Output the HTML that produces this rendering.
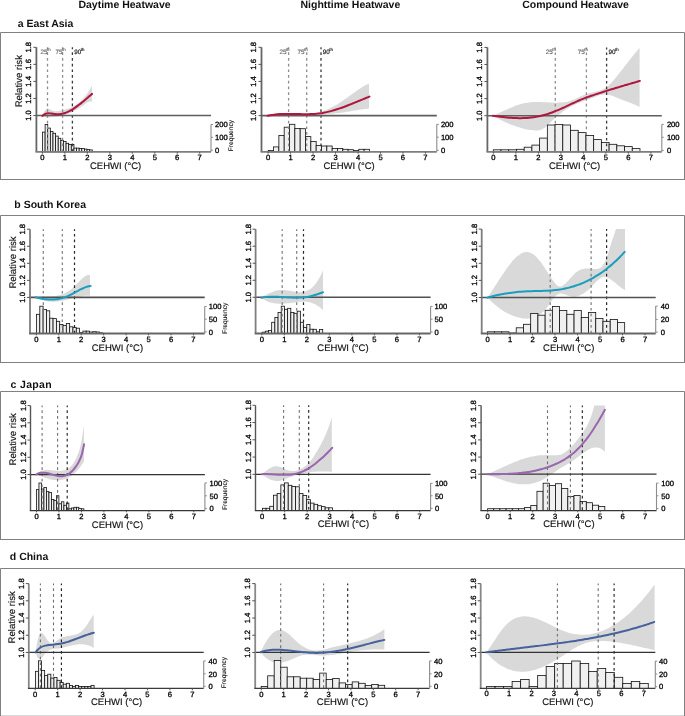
<!DOCTYPE html>
<html><head><meta charset="utf-8"><style>
html,body{margin:0;padding:0;background:#fff;overflow:hidden;width:685px;height:716px;}
svg{display:block;will-change:transform;text-rendering:geometricPrecision;font-family:"Liberation Sans", sans-serif;}
.tk{font-size:7.6px;fill:#000;stroke:#000;stroke-width:0.3px;}
.xl{font-size:9.5px;fill:#111;stroke:#111;stroke-width:0.15px;}
.rr{font-size:9.6px;fill:#111;stroke:#111;stroke-width:0.15px;}
.fq{font-size:6.6px;fill:#111;stroke:#111;stroke-width:0.12px;}
.pl{font-size:6.3px;stroke-width:0.15px;}
.sup{font-size:4.3px;}
.hd{font-size:10.5px;font-weight:bold;fill:#111;}
</style></head><body>
<svg width="685" height="716" viewBox="0 0 685 716">
<rect x="0" y="0" width="685" height="716" fill="#fff"/>
<text x="78.4" y="8.2" class="hd">Daytime Heatwave</text>
<text x="300.5" y="8.2" class="hd">Nighttime Heatwave</text>
<text x="522.2" y="8.2" class="hd">Compound Heatwave</text>
<text x="17.7" y="26.8" class="hd">a East Asia</text>
<path d="M0.5,32.5 H684.5 V179.5" fill="none" stroke="#808080" stroke-width="1"/>
<path d="M0.5,32.5 V179.5" fill="none" stroke="#808080" stroke-width="1"/>
<line x1="0" y1="179.5" x2="685" y2="179.5" stroke="#808080" stroke-width="1"/>
<clipPath id="c1"><rect x="36.4" y="47.3" width="174.6" height="104.55"/></clipPath>
<path d="M42.3,115.61 C42.64,114.93 43.68,112.66 44.37,111.56 C45.06,110.46 45.74,109.48 46.43,108.99 C47.12,108.5 47.81,108.53 48.5,108.64 C49.19,108.74 49.88,109.29 50.57,109.63 C51.26,109.96 51.94,110.39 52.63,110.64 C53.32,110.89 54.01,111.04 54.7,111.14 C55.39,111.24 56.08,111.25 56.77,111.23 C57.46,111.21 58.14,111.12 58.83,111.02 C59.52,110.91 60.21,110.76 60.9,110.6 C61.59,110.45 62.28,110.28 62.97,110.1 C63.66,109.93 64.34,109.75 65.03,109.55 C65.72,109.36 66.41,109.16 67.1,108.94 C67.79,108.71 68.48,108.48 69.17,108.22 C69.86,107.96 70.54,107.68 71.23,107.38 C71.92,107.07 72.61,106.74 73.3,106.38 C73.99,106.02 74.68,105.63 75.37,105.2 C76.06,104.77 76.74,104.31 77.43,103.81 C78.12,103.3 78.81,102.77 79.5,102.18 C80.19,101.59 80.88,100.96 81.57,100.28 C82.26,99.6 82.94,98.87 83.63,98.09 C84.32,97.3 85.01,96.47 85.7,95.57 C86.39,94.67 87.08,93.72 87.77,92.7 C88.46,91.68 89.14,90.61 89.83,89.46 C90.52,88.3 91.56,86.41 91.9,85.8 L91.9,101.49 C91.56,101.51 90.52,101.45 89.83,101.59 C89.14,101.74 88.46,102.02 87.77,102.35 C87.08,102.67 86.39,103.11 85.7,103.55 C85.01,103.99 84.32,104.5 83.63,104.99 C82.94,105.48 82.26,106 81.57,106.48 C80.88,106.96 80.19,107.43 79.5,107.87 C78.81,108.32 78.12,108.75 77.43,109.16 C76.74,109.57 76.06,109.96 75.37,110.34 C74.68,110.71 73.99,111.07 73.3,111.41 C72.61,111.75 71.92,112.08 71.23,112.38 C70.54,112.69 69.86,112.98 69.17,113.25 C68.48,113.52 67.79,113.78 67.1,114.02 C66.41,114.26 65.72,114.48 65.03,114.69 C64.34,114.89 63.66,115.08 62.97,115.26 C62.28,115.43 61.59,115.59 60.9,115.74 C60.21,115.89 59.52,116.03 58.83,116.15 C58.14,116.28 57.46,116.39 56.77,116.5 C56.08,116.61 55.39,116.7 54.7,116.8 C54.01,116.89 53.32,116.98 52.63,117.06 C51.94,117.14 51.26,117.23 50.57,117.3 C49.88,117.36 49.19,117.44 48.5,117.45 C47.81,117.47 47.12,117.47 46.43,117.39 C45.74,117.3 45.06,117.18 44.37,116.95 C43.68,116.72 42.64,116.16 42.3,116 Z" fill="#d9d9d9" clip-path="url(#c1)"/>
<rect x="42.5" y="132.1" width="2.62" height="19.75" fill="#f0f0f0" stroke="#111" stroke-width="0.8"/>
<rect x="45.12" y="124.5" width="2.62" height="27.35" fill="#f0f0f0" stroke="#111" stroke-width="0.8"/>
<rect x="47.74" y="128.1" width="2.62" height="23.75" fill="#f0f0f0" stroke="#111" stroke-width="0.8"/>
<rect x="50.36" y="131.4" width="2.62" height="20.45" fill="#f0f0f0" stroke="#111" stroke-width="0.8"/>
<rect x="52.98" y="133.3" width="2.62" height="18.55" fill="#f0f0f0" stroke="#111" stroke-width="0.8"/>
<rect x="55.6" y="136.1" width="2.62" height="15.75" fill="#f0f0f0" stroke="#111" stroke-width="0.8"/>
<rect x="58.22" y="138.3" width="2.62" height="13.55" fill="#f0f0f0" stroke="#111" stroke-width="0.8"/>
<rect x="60.84" y="140.4" width="2.62" height="11.45" fill="#f0f0f0" stroke="#111" stroke-width="0.8"/>
<rect x="63.46" y="141.4" width="2.62" height="10.45" fill="#f0f0f0" stroke="#111" stroke-width="0.8"/>
<rect x="66.08" y="143.3" width="2.62" height="8.55" fill="#f0f0f0" stroke="#111" stroke-width="0.8"/>
<rect x="68.7" y="144.4" width="2.62" height="7.45" fill="#f0f0f0" stroke="#111" stroke-width="0.8"/>
<rect x="71.32" y="144.4" width="2.62" height="7.45" fill="#f0f0f0" stroke="#111" stroke-width="0.8"/>
<rect x="73.94" y="148.1" width="2.62" height="3.75" fill="#f0f0f0" stroke="#111" stroke-width="0.8"/>
<rect x="76.56" y="148.1" width="2.62" height="3.75" fill="#f0f0f0" stroke="#111" stroke-width="0.8"/>
<rect x="79.18" y="148.4" width="2.62" height="3.45" fill="#f0f0f0" stroke="#111" stroke-width="0.8"/>
<rect x="81.8" y="148.6" width="2.62" height="3.25" fill="#f0f0f0" stroke="#111" stroke-width="0.8"/>
<rect x="84.42" y="149.1" width="2.62" height="2.75" fill="#f0f0f0" stroke="#111" stroke-width="0.8"/>
<rect x="87.04" y="149.6" width="2.62" height="2.25" fill="#f0f0f0" stroke="#111" stroke-width="0.8"/>
<rect x="89.66" y="149.9" width="2.62" height="1.95" fill="#f0f0f0" stroke="#111" stroke-width="0.8"/>
<line x1="47.5" y1="47.3" x2="47.5" y2="151.85" stroke="#8e8e8e" stroke-width="1.3" stroke-dasharray="2.7 3.0" stroke-dashoffset="0.7"/>
<line x1="62.6" y1="47.3" x2="62.6" y2="151.85" stroke="#8e8e8e" stroke-width="1.3" stroke-dasharray="2.7 3.0" stroke-dashoffset="0.7"/>
<line x1="72.4" y1="47.3" x2="72.4" y2="151.85" stroke="#3a3a3a" stroke-width="1.3" stroke-dasharray="2.7 3.0" stroke-dashoffset="0.7"/>
<line x1="36.4" y1="115.5" x2="211" y2="115.5" stroke="#5e5e5e" stroke-width="1.6"/>
<path d="M42.3,115.89 C42.65,115.62 43.68,114.67 44.38,114.27 C45.07,113.86 45.76,113.63 46.45,113.45 C47.14,113.28 47.83,113.24 48.52,113.23 C49.22,113.22 49.91,113.31 50.6,113.39 C51.29,113.48 51.98,113.63 52.67,113.74 C53.37,113.85 54.06,113.97 54.75,114.05 C55.44,114.13 56.13,114.18 56.82,114.2 C57.52,114.23 58.21,114.22 58.9,114.18 C59.59,114.15 60.28,114.08 60.97,113.98 C61.67,113.88 62.36,113.75 63.05,113.58 C63.74,113.42 64.43,113.22 65.12,112.99 C65.82,112.76 66.51,112.49 67.2,112.2 C67.89,111.9 68.58,111.58 69.27,111.22 C69.97,110.87 70.66,110.49 71.35,110.09 C72.04,109.69 72.73,109.26 73.42,108.81 C74.12,108.36 74.81,107.89 75.5,107.4 C76.19,106.92 76.88,106.41 77.57,105.89 C78.27,105.37 78.96,104.84 79.65,104.29 C80.34,103.75 81.03,103.19 81.72,102.62 C82.42,102.06 83.11,101.48 83.8,100.9 C84.49,100.33 85.18,99.74 85.88,99.15 C86.57,98.57 87.26,97.97 87.95,97.39 C88.64,96.8 89.33,96.21 90.02,95.62 C90.72,95.04 91.75,94.18 92.1,93.89" fill="none" stroke="#B0163E" stroke-width="2" stroke-linecap="round" clip-path="url(#c1)"/>
<line x1="36.4" y1="47.3" x2="36.4" y2="151.85" stroke="#666" stroke-width="1.8"/>
<line x1="35.5" y1="151.85" x2="211" y2="151.85" stroke="#7e7e7e" stroke-width="1.8"/>
<line x1="33.4" y1="115.5" x2="36.4" y2="115.5" stroke="#555" stroke-width="1"/>
<text x="31.1" y="115.5" transform="rotate(-90 31.1 115.5)" text-anchor="middle" class="tk">1.0</text>
<line x1="33.4" y1="98.45" x2="36.4" y2="98.45" stroke="#555" stroke-width="1"/>
<text x="31.1" y="98.45" transform="rotate(-90 31.1 98.45)" text-anchor="middle" class="tk">1.2</text>
<line x1="33.4" y1="81.4" x2="36.4" y2="81.4" stroke="#555" stroke-width="1"/>
<text x="31.1" y="81.4" transform="rotate(-90 31.1 81.4)" text-anchor="middle" class="tk">1.4</text>
<line x1="33.4" y1="64.35" x2="36.4" y2="64.35" stroke="#555" stroke-width="1"/>
<text x="31.1" y="64.35" transform="rotate(-90 31.1 64.35)" text-anchor="middle" class="tk">1.6</text>
<line x1="33.4" y1="47.3" x2="36.4" y2="47.3" stroke="#555" stroke-width="1"/>
<text x="31.1" y="47.3" transform="rotate(-90 31.1 47.3)" text-anchor="middle" class="tk">1.8</text>
<line x1="42.4" y1="151.85" x2="42.4" y2="153.65" stroke="#555" stroke-width="1"/>
<text x="42.4" y="160" text-anchor="middle" class="tk">0</text>
<line x1="64.87" y1="151.85" x2="64.87" y2="153.65" stroke="#555" stroke-width="1"/>
<text x="64.87" y="160" text-anchor="middle" class="tk">1</text>
<line x1="87.34" y1="151.85" x2="87.34" y2="153.65" stroke="#555" stroke-width="1"/>
<text x="87.34" y="160" text-anchor="middle" class="tk">2</text>
<line x1="109.81" y1="151.85" x2="109.81" y2="153.65" stroke="#555" stroke-width="1"/>
<text x="109.81" y="160" text-anchor="middle" class="tk">3</text>
<line x1="132.28" y1="151.85" x2="132.28" y2="153.65" stroke="#555" stroke-width="1"/>
<text x="132.28" y="160" text-anchor="middle" class="tk">4</text>
<line x1="154.75" y1="151.85" x2="154.75" y2="153.65" stroke="#555" stroke-width="1"/>
<text x="154.75" y="160" text-anchor="middle" class="tk">5</text>
<line x1="177.22" y1="151.85" x2="177.22" y2="153.65" stroke="#555" stroke-width="1"/>
<text x="177.22" y="160" text-anchor="middle" class="tk">6</text>
<line x1="199.69" y1="151.85" x2="199.69" y2="153.65" stroke="#555" stroke-width="1"/>
<text x="199.69" y="160" text-anchor="middle" class="tk">7</text>
<line x1="211" y1="124.5" x2="211" y2="151.85" stroke="#8c8c8c" stroke-width="1.1"/>
<line x1="211" y1="124.5" x2="213" y2="124.5" stroke="#8c8c8c" stroke-width="1"/>
<text x="215.1" y="127.2" class="tk">200</text>
<line x1="211" y1="137.3" x2="213" y2="137.3" stroke="#8c8c8c" stroke-width="1"/>
<text x="215.1" y="140" class="tk">100</text>
<line x1="211" y1="150.2" x2="213" y2="150.2" stroke="#8c8c8c" stroke-width="1"/>
<text x="215.1" y="152.9" class="tk">0</text>
<text x="115.6" y="169" text-anchor="middle" class="xl">CEHWI (°C)</text>
<text x="40.6" y="53.9" class="pl" fill="#666" stroke="#666" text-anchor="start">25<tspan class="sup" dx="-0.5" dy="-3.0">th</tspan></text>
<text x="55.5" y="53.9" class="pl" fill="#666" stroke="#666" text-anchor="start">75<tspan class="sup" dx="-0.5" dy="-3.0">th</tspan></text>
<text x="74.3" y="53.9" class="pl" fill="#111" stroke="#111" text-anchor="start">90<tspan class="sup" dx="-0.5" dy="-3.0">th</tspan></text>
<text x="21.6" y="81.2" transform="rotate(-90 21.6 81.2)" text-anchor="middle" class="rr">Relative risk</text>
<text x="233" y="135.6" transform="rotate(-90 233 135.6)" text-anchor="middle" class="fq">Frequency</text>
<clipPath id="c2"><rect x="261.5" y="47.3" width="175.3" height="104.55"/></clipPath>
<path d="M267.6,115.6 C267.94,115.48 268.95,115.12 269.63,114.92 C270.3,114.72 270.98,114.53 271.66,114.37 C272.33,114.2 273.01,114.06 273.68,113.93 C274.36,113.8 275.04,113.69 275.71,113.6 C276.39,113.5 277.06,113.42 277.74,113.36 C278.42,113.29 279.09,113.24 279.77,113.2 C280.44,113.16 281.12,113.13 281.8,113.11 C282.47,113.09 283.15,113.08 283.82,113.09 C284.5,113.09 285.18,113.1 285.85,113.11 C286.53,113.13 287.2,113.15 287.88,113.18 C288.56,113.21 289.23,113.25 289.91,113.28 C290.58,113.32 291.26,113.36 291.94,113.41 C292.61,113.45 293.29,113.5 293.96,113.54 C294.64,113.59 295.32,113.63 295.99,113.68 C296.67,113.72 297.34,113.76 298.02,113.8 C298.7,113.84 299.37,113.88 300.05,113.91 C300.72,113.94 301.4,113.97 302.08,113.98 C302.75,114 303.43,114.02 304.1,114.02 C304.78,114.03 305.46,114.02 306.13,114.01 C306.81,113.99 307.48,113.97 308.16,113.93 C308.84,113.9 309.51,113.85 310.19,113.79 C310.86,113.73 311.54,113.66 312.22,113.57 C312.89,113.48 313.57,113.38 314.24,113.27 C314.92,113.16 315.6,113.03 316.27,112.89 C316.95,112.76 317.62,112.6 318.3,112.44 C318.98,112.27 319.65,112.09 320.33,111.9 C321,111.71 321.68,111.51 322.36,111.29 C323.03,111.07 323.71,110.84 324.38,110.59 C325.06,110.34 325.74,110.08 326.41,109.81 C327.09,109.54 327.76,109.25 328.44,108.95 C329.12,108.65 329.79,108.34 330.47,108.01 C331.14,107.68 331.82,107.34 332.5,106.98 C333.17,106.63 333.85,106.26 334.52,105.88 C335.2,105.49 335.88,105.1 336.55,104.69 C337.23,104.28 337.9,103.86 338.58,103.43 C339.26,103 339.93,102.56 340.61,102.11 C341.28,101.67 341.96,101.21 342.64,100.75 C343.31,100.29 343.99,99.82 344.66,99.35 C345.34,98.87 346.02,98.39 346.69,97.91 C347.37,97.43 348.04,96.95 348.72,96.47 C349.4,95.98 350.07,95.5 350.75,95.01 C351.42,94.53 352.1,94.04 352.78,93.56 C353.45,93.08 354.13,92.6 354.8,92.13 C355.48,91.65 356.16,91.18 356.83,90.72 C357.51,90.25 358.18,89.79 358.86,89.34 C359.54,88.89 360.21,88.45 360.89,88.02 C361.56,87.58 362.24,87.16 362.92,86.75 C363.59,86.33 364.27,85.93 364.94,85.54 C365.62,85.15 366.3,84.78 366.97,84.42 C367.65,84.06 368.66,83.55 369,83.38 L369,108.38 C368.66,108.42 367.65,108.55 366.97,108.64 C366.3,108.73 365.62,108.82 364.94,108.92 C364.27,109.01 363.59,109.11 362.92,109.21 C362.24,109.31 361.56,109.41 360.89,109.52 C360.21,109.62 359.54,109.73 358.86,109.84 C358.18,109.94 357.51,110.05 356.83,110.16 C356.16,110.27 355.48,110.38 354.8,110.49 C354.13,110.6 353.45,110.71 352.78,110.82 C352.1,110.94 351.42,111.05 350.75,111.16 C350.07,111.27 349.4,111.38 348.72,111.49 C348.04,111.6 347.37,111.7 346.69,111.81 C346.02,111.92 345.34,112.02 344.66,112.13 C343.99,112.23 343.31,112.33 342.64,112.43 C341.96,112.53 341.28,112.63 340.61,112.72 C339.93,112.82 339.26,112.91 338.58,113 C337.9,113.09 337.23,113.17 336.55,113.26 C335.88,113.34 335.2,113.42 334.52,113.49 C333.85,113.57 333.17,113.64 332.5,113.7 C331.82,113.77 331.14,113.83 330.47,113.89 C329.79,113.95 329.12,114 328.44,114.06 C327.76,114.11 327.09,114.15 326.41,114.2 C325.74,114.24 325.06,114.29 324.38,114.32 C323.71,114.36 323.03,114.4 322.36,114.43 C321.68,114.46 321,114.49 320.33,114.52 C319.65,114.55 318.98,114.57 318.3,114.59 C317.62,114.62 316.95,114.63 316.27,114.65 C315.6,114.67 314.92,114.69 314.24,114.7 C313.57,114.72 312.89,114.73 312.22,114.74 C311.54,114.75 310.86,114.76 310.19,114.77 C309.51,114.78 308.84,114.78 308.16,114.79 C307.48,114.79 306.81,114.8 306.13,114.8 C305.46,114.81 304.78,114.81 304.1,114.81 C303.43,114.81 302.75,114.82 302.08,114.82 C301.4,114.82 300.72,114.82 300.05,114.82 C299.37,114.82 298.7,114.83 298.02,114.83 C297.34,114.83 296.67,114.83 295.99,114.83 C295.32,114.84 294.64,114.84 293.96,114.84 C293.29,114.85 292.61,114.85 291.94,114.85 C291.26,114.86 290.58,114.87 289.91,114.87 C289.23,114.88 288.56,114.89 287.88,114.9 C287.2,114.91 286.53,114.92 285.85,114.93 C285.18,114.95 284.5,114.96 283.82,114.98 C283.15,114.99 282.47,115.01 281.8,115.03 C281.12,115.05 280.44,115.08 279.77,115.1 C279.09,115.13 278.42,115.16 277.74,115.19 C277.06,115.22 276.39,115.25 275.71,115.29 C275.04,115.32 274.36,115.36 273.68,115.4 C273.01,115.45 272.33,115.49 271.66,115.54 C270.98,115.59 270.3,115.64 269.63,115.7 C268.95,115.75 267.94,115.85 267.6,115.88 Z" fill="#d9d9d9" clip-path="url(#c2)"/>
<rect x="268.2" y="150.4" width="5.33" height="1.45" fill="#f0f0f0" stroke="#111" stroke-width="0.8"/>
<rect x="273.53" y="146.9" width="5.33" height="4.95" fill="#f0f0f0" stroke="#111" stroke-width="0.8"/>
<rect x="278.86" y="135.5" width="5.33" height="16.35" fill="#f0f0f0" stroke="#111" stroke-width="0.8"/>
<rect x="284.19" y="127.2" width="5.33" height="24.65" fill="#f0f0f0" stroke="#111" stroke-width="0.8"/>
<rect x="289.52" y="124.3" width="5.33" height="27.55" fill="#f0f0f0" stroke="#111" stroke-width="0.8"/>
<rect x="294.85" y="128.5" width="5.33" height="23.35" fill="#f0f0f0" stroke="#111" stroke-width="0.8"/>
<rect x="300.18" y="128.7" width="5.33" height="23.15" fill="#f0f0f0" stroke="#111" stroke-width="0.8"/>
<rect x="305.51" y="136.6" width="5.33" height="15.25" fill="#f0f0f0" stroke="#111" stroke-width="0.8"/>
<rect x="310.84" y="141.5" width="5.33" height="10.35" fill="#f0f0f0" stroke="#111" stroke-width="0.8"/>
<rect x="316.17" y="145.4" width="5.33" height="6.45" fill="#f0f0f0" stroke="#111" stroke-width="0.8"/>
<rect x="321.5" y="146" width="5.33" height="5.85" fill="#f0f0f0" stroke="#111" stroke-width="0.8"/>
<rect x="326.83" y="146" width="5.33" height="5.85" fill="#f0f0f0" stroke="#111" stroke-width="0.8"/>
<rect x="332.16" y="148.4" width="5.33" height="3.45" fill="#f0f0f0" stroke="#111" stroke-width="0.8"/>
<rect x="337.49" y="148.4" width="5.33" height="3.45" fill="#f0f0f0" stroke="#111" stroke-width="0.8"/>
<rect x="342.82" y="149.3" width="5.33" height="2.55" fill="#f0f0f0" stroke="#111" stroke-width="0.8"/>
<rect x="348.15" y="149.7" width="5.33" height="2.15" fill="#f0f0f0" stroke="#111" stroke-width="0.8"/>
<rect x="353.48" y="150.5" width="5.33" height="1.35" fill="#f0f0f0" stroke="#111" stroke-width="0.8"/>
<rect x="358.81" y="149.3" width="5.33" height="2.55" fill="#f0f0f0" stroke="#111" stroke-width="0.8"/>
<rect x="364.14" y="149.3" width="5.33" height="2.55" fill="#f0f0f0" stroke="#111" stroke-width="0.8"/>
<line x1="288.6" y1="47.3" x2="288.6" y2="151.85" stroke="#8e8e8e" stroke-width="1.3" stroke-dasharray="2.7 3.0" stroke-dashoffset="0.7"/>
<line x1="306.7" y1="47.3" x2="306.7" y2="151.85" stroke="#8e8e8e" stroke-width="1.3" stroke-dasharray="2.7 3.0" stroke-dashoffset="0.7"/>
<line x1="321" y1="47.3" x2="321" y2="151.85" stroke="#3a3a3a" stroke-width="1.3" stroke-dasharray="2.7 3.0" stroke-dashoffset="0.7"/>
<line x1="261.5" y1="115.6" x2="436.8" y2="115.6" stroke="#5e5e5e" stroke-width="1.6"/>
<path d="M267.6,115.78 C267.94,115.71 268.96,115.48 269.64,115.35 C270.32,115.22 271,115.1 271.68,114.99 C272.36,114.88 273.03,114.78 273.71,114.69 C274.39,114.6 275.07,114.52 275.75,114.44 C276.43,114.37 277.11,114.31 277.79,114.25 C278.47,114.2 279.15,114.15 279.83,114.11 C280.51,114.07 281.19,114.03 281.87,114 C282.55,113.97 283.22,113.95 283.9,113.94 C284.58,113.92 285.26,113.91 285.94,113.9 C286.62,113.89 287.3,113.89 287.98,113.89 C288.66,113.89 289.34,113.9 290.02,113.9 C290.7,113.91 291.38,113.92 292.06,113.93 C292.74,113.94 293.41,113.96 294.09,113.97 C294.77,113.99 295.45,114 296.13,114.02 C296.81,114.04 297.49,114.05 298.17,114.07 C298.85,114.08 299.53,114.1 300.21,114.11 C300.89,114.13 301.57,114.14 302.25,114.15 C302.93,114.16 303.6,114.17 304.28,114.17 C304.96,114.17 305.64,114.18 306.32,114.17 C307,114.17 307.68,114.17 308.36,114.15 C309.04,114.14 309.72,114.13 310.4,114.1 C311.08,114.08 311.76,114.06 312.44,114.02 C313.12,113.99 313.79,113.95 314.47,113.9 C315.15,113.85 315.83,113.8 316.51,113.74 C317.19,113.67 317.87,113.6 318.55,113.52 C319.23,113.44 319.91,113.35 320.59,113.25 C321.27,113.16 321.95,113.05 322.63,112.93 C323.31,112.81 323.98,112.69 324.66,112.55 C325.34,112.42 326.02,112.28 326.7,112.13 C327.38,111.98 328.06,111.82 328.74,111.65 C329.42,111.48 330.1,111.31 330.78,111.13 C331.46,110.95 332.14,110.76 332.82,110.57 C333.5,110.37 334.17,110.17 334.85,109.96 C335.53,109.76 336.21,109.54 336.89,109.33 C337.57,109.11 338.25,108.88 338.93,108.66 C339.61,108.43 340.29,108.19 340.97,107.95 C341.65,107.72 342.33,107.47 343.01,107.22 C343.69,106.98 344.36,106.73 345.04,106.47 C345.72,106.22 346.4,105.96 347.08,105.7 C347.76,105.43 348.44,105.17 349.12,104.9 C349.8,104.63 350.48,104.36 351.16,104.09 C351.84,103.82 352.52,103.55 353.2,103.27 C353.88,102.99 354.55,102.72 355.23,102.44 C355.91,102.16 356.59,101.88 357.27,101.6 C357.95,101.32 358.63,101.03 359.31,100.75 C359.99,100.47 360.67,100.19 361.35,99.91 C362.03,99.63 362.71,99.35 363.39,99.06 C364.07,98.78 364.74,98.5 365.42,98.23 C366.1,97.95 366.78,97.67 367.46,97.39 C368.14,97.12 369.16,96.71 369.5,96.57" fill="none" stroke="#B0163E" stroke-width="2" stroke-linecap="round" clip-path="url(#c2)"/>
<line x1="261.5" y1="47.3" x2="261.5" y2="151.85" stroke="#666" stroke-width="1.8"/>
<line x1="260.6" y1="151.85" x2="436.8" y2="151.85" stroke="#7e7e7e" stroke-width="1.8"/>
<line x1="258.5" y1="115.6" x2="261.5" y2="115.6" stroke="#555" stroke-width="1"/>
<text x="256.4" y="115.6" transform="rotate(-90 256.4 115.6)" text-anchor="middle" class="tk">1.0</text>
<line x1="258.5" y1="98.52" x2="261.5" y2="98.52" stroke="#555" stroke-width="1"/>
<text x="256.4" y="98.52" transform="rotate(-90 256.4 98.52)" text-anchor="middle" class="tk">1.2</text>
<line x1="258.5" y1="81.45" x2="261.5" y2="81.45" stroke="#555" stroke-width="1"/>
<text x="256.4" y="81.45" transform="rotate(-90 256.4 81.45)" text-anchor="middle" class="tk">1.4</text>
<line x1="258.5" y1="64.38" x2="261.5" y2="64.38" stroke="#555" stroke-width="1"/>
<text x="256.4" y="64.38" transform="rotate(-90 256.4 64.38)" text-anchor="middle" class="tk">1.6</text>
<line x1="258.5" y1="47.3" x2="261.5" y2="47.3" stroke="#555" stroke-width="1"/>
<text x="256.4" y="47.3" transform="rotate(-90 256.4 47.3)" text-anchor="middle" class="tk">1.8</text>
<line x1="268.1" y1="151.85" x2="268.1" y2="153.65" stroke="#555" stroke-width="1"/>
<text x="268.1" y="160" text-anchor="middle" class="tk">0</text>
<line x1="290.58" y1="151.85" x2="290.58" y2="153.65" stroke="#555" stroke-width="1"/>
<text x="290.58" y="160" text-anchor="middle" class="tk">1</text>
<line x1="313.06" y1="151.85" x2="313.06" y2="153.65" stroke="#555" stroke-width="1"/>
<text x="313.06" y="160" text-anchor="middle" class="tk">2</text>
<line x1="335.54" y1="151.85" x2="335.54" y2="153.65" stroke="#555" stroke-width="1"/>
<text x="335.54" y="160" text-anchor="middle" class="tk">3</text>
<line x1="358.02" y1="151.85" x2="358.02" y2="153.65" stroke="#555" stroke-width="1"/>
<text x="358.02" y="160" text-anchor="middle" class="tk">4</text>
<line x1="380.5" y1="151.85" x2="380.5" y2="153.65" stroke="#555" stroke-width="1"/>
<text x="380.5" y="160" text-anchor="middle" class="tk">5</text>
<line x1="402.98" y1="151.85" x2="402.98" y2="153.65" stroke="#555" stroke-width="1"/>
<text x="402.98" y="160" text-anchor="middle" class="tk">6</text>
<line x1="425.46" y1="151.85" x2="425.46" y2="153.65" stroke="#555" stroke-width="1"/>
<text x="425.46" y="160" text-anchor="middle" class="tk">7</text>
<line x1="436.8" y1="124.3" x2="436.8" y2="151.85" stroke="#8c8c8c" stroke-width="1.1"/>
<line x1="436.8" y1="124.3" x2="438.8" y2="124.3" stroke="#8c8c8c" stroke-width="1"/>
<text x="440.9" y="127" class="tk">200</text>
<line x1="436.8" y1="137.2" x2="438.8" y2="137.2" stroke="#8c8c8c" stroke-width="1"/>
<text x="440.9" y="139.9" class="tk">100</text>
<line x1="436.8" y1="150.3" x2="438.8" y2="150.3" stroke="#8c8c8c" stroke-width="1"/>
<text x="440.9" y="153" class="tk">0</text>
<text x="349.1" y="169.1" text-anchor="middle" class="xl">CEHWI (°C)</text>
<text x="279.4" y="53.9" class="pl" fill="#666" stroke="#666" text-anchor="start">25<tspan class="sup" dx="-0.5" dy="-3.0">th</tspan></text>
<text x="297.5" y="53.9" class="pl" fill="#666" stroke="#666" text-anchor="start">75<tspan class="sup" dx="-0.5" dy="-3.0">th</tspan></text>
<text x="322.7" y="53.9" class="pl" fill="#111" stroke="#111" text-anchor="start">90<tspan class="sup" dx="-0.5" dy="-3.0">th</tspan></text>
<clipPath id="c3"><rect x="487.4" y="47.4" width="174.4" height="104.45"/></clipPath>
<path d="M492.8,115.6 C493.14,115.46 494.14,115.06 494.81,114.78 C495.48,114.5 496.15,114.22 496.82,113.93 C497.49,113.64 498.16,113.35 498.83,113.05 C499.5,112.76 500.17,112.46 500.84,112.16 C501.51,111.86 502.18,111.56 502.85,111.26 C503.53,110.96 504.2,110.66 504.87,110.36 C505.54,110.06 506.21,109.76 506.88,109.46 C507.55,109.16 508.22,108.87 508.89,108.58 C509.56,108.29 510.23,108 510.9,107.72 C511.57,107.44 512.24,107.16 512.91,106.9 C513.58,106.63 514.25,106.36 514.92,106.11 C515.59,105.86 516.26,105.61 516.93,105.37 C517.6,105.13 518.27,104.9 518.94,104.69 C519.61,104.47 520.28,104.26 520.95,104.07 C521.62,103.87 522.29,103.69 522.96,103.52 C523.63,103.35 524.31,103.2 524.98,103.06 C525.65,102.91 526.32,102.79 526.99,102.68 C527.66,102.57 528.33,102.47 529,102.39 C529.67,102.31 530.34,102.24 531.01,102.19 C531.68,102.13 532.35,102.09 533.02,102.05 C533.69,102.02 534.36,102 535.03,101.99 C535.7,101.97 536.37,101.97 537.04,101.97 C537.71,101.97 538.38,101.99 539.05,102 C539.72,102.02 540.39,102.04 541.06,102.07 C541.73,102.09 542.4,102.12 543.07,102.15 C543.74,102.19 544.41,102.22 545.08,102.26 C545.76,102.29 546.43,102.33 547.1,102.37 C547.77,102.4 548.44,102.44 549.11,102.47 C549.78,102.51 550.45,102.54 551.12,102.56 C551.79,102.59 552.46,102.62 553.13,102.63 C553.8,102.65 554.47,102.66 555.14,102.67 C555.81,102.67 556.48,102.67 557.15,102.66 C557.82,102.65 558.49,102.63 559.16,102.6 C559.83,102.57 560.5,102.53 561.17,102.48 C561.84,102.43 562.51,102.36 563.18,102.29 C563.85,102.21 564.52,102.12 565.19,102.01 C565.86,101.9 566.54,101.78 567.21,101.64 C567.88,101.49 568.55,101.34 569.22,101.16 C569.89,100.98 570.56,100.78 571.23,100.55 C571.9,100.33 572.57,100.09 573.24,99.82 C573.91,99.55 574.58,99.25 575.25,98.95 C575.92,98.64 576.59,98.31 577.26,97.99 C577.93,97.67 578.6,97.33 579.27,97.02 C579.94,96.71 580.61,96.4 581.28,96.12 C581.95,95.84 582.62,95.57 583.29,95.32 C583.96,95.06 584.63,94.82 585.3,94.59 C585.97,94.37 586.64,94.15 587.32,93.95 C587.99,93.74 588.66,93.55 589.33,93.36 C590,93.18 590.67,93 591.34,92.83 C592.01,92.66 592.68,92.51 593.35,92.35 C594.02,92.18 594.69,92.03 595.36,91.87 C596.03,91.7 596.7,91.54 597.37,91.35 C598.04,91.16 598.71,90.97 599.38,90.75 C600.05,90.52 600.72,90.28 601.39,90 C602.06,89.72 602.73,89.42 603.4,89.06 C604.07,88.71 604.74,88.33 605.41,87.89 C606.08,87.45 606.75,86.96 607.42,86.43 C608.09,85.89 608.77,85.29 609.44,84.67 C610.11,84.04 610.78,83.36 611.45,82.66 C612.12,81.95 612.79,81.21 613.46,80.45 C614.13,79.68 614.8,78.89 615.47,78.08 C616.14,77.28 616.81,76.45 617.48,75.62 C618.15,74.79 618.82,73.94 619.49,73.09 C620.16,72.23 620.83,71.37 621.5,70.5 C622.17,69.64 622.84,68.76 623.51,67.89 C624.18,67.02 624.85,66.14 625.52,65.26 C626.19,64.39 626.86,63.51 627.53,62.64 C628.2,61.77 628.87,60.9 629.55,60.04 C630.22,59.17 630.89,58.32 631.56,57.47 C632.23,56.63 632.9,55.79 633.57,54.97 C634.24,54.15 634.91,53.34 635.58,52.55 C636.25,51.76 636.92,50.98 637.59,50.22 C638.26,49.46 639.26,48.37 639.6,48 L639.6,106.9 C639.26,106.74 638.26,106.24 637.59,105.93 C636.92,105.62 636.25,105.32 635.58,105.02 C634.91,104.73 634.24,104.44 633.57,104.16 C632.9,103.88 632.23,103.61 631.56,103.34 C630.89,103.08 630.22,102.81 629.55,102.56 C628.87,102.3 628.2,102.04 627.53,101.79 C626.86,101.53 626.19,101.28 625.52,101.03 C624.85,100.78 624.18,100.53 623.51,100.28 C622.84,100.03 622.17,99.78 621.5,99.52 C620.83,99.27 620.16,99.01 619.49,98.75 C618.82,98.49 618.15,98.22 617.48,97.95 C616.81,97.68 616.14,97.4 615.47,97.12 C614.8,96.84 614.13,96.55 613.46,96.28 C612.79,96.02 612.12,95.75 611.45,95.52 C610.78,95.28 610.11,95.06 609.44,94.88 C608.77,94.7 608.09,94.55 607.42,94.45 C606.75,94.35 606.08,94.3 605.41,94.29 C604.74,94.28 604.07,94.32 603.4,94.39 C602.73,94.47 602.06,94.59 601.39,94.73 C600.72,94.87 600.05,95.05 599.38,95.24 C598.71,95.44 598.04,95.66 597.37,95.89 C596.7,96.12 596.03,96.38 595.36,96.63 C594.69,96.88 594.02,97.15 593.35,97.41 C592.68,97.67 592.01,97.93 591.34,98.19 C590.67,98.44 590,98.69 589.33,98.94 C588.66,99.19 587.99,99.44 587.32,99.69 C586.64,99.93 585.97,100.18 585.3,100.42 C584.63,100.67 583.96,100.92 583.29,101.17 C582.62,101.42 581.95,101.68 581.28,101.93 C580.61,102.19 579.94,102.46 579.27,102.73 C578.6,103 577.93,103.27 577.26,103.56 C576.59,103.84 575.92,104.14 575.25,104.44 C574.58,104.74 573.91,105.06 573.24,105.38 C572.57,105.71 571.9,106.04 571.23,106.4 C570.56,106.75 569.89,107.11 569.22,107.49 C568.55,107.87 567.88,108.27 567.21,108.68 C566.54,109.09 565.86,109.52 565.19,109.97 C564.52,110.42 563.85,110.88 563.18,111.37 C562.51,111.86 561.84,112.37 561.17,112.9 C560.5,113.43 559.83,113.99 559.16,114.55 C558.49,115.12 557.82,115.7 557.15,116.29 C556.48,116.87 555.81,117.47 555.14,118.07 C554.47,118.66 553.8,119.26 553.13,119.87 C552.46,120.48 551.79,121.08 551.12,121.71 C550.45,122.34 549.78,122.99 549.11,123.63 C548.44,124.28 547.77,124.97 547.1,125.6 C546.43,126.23 545.76,126.88 545.08,127.41 C544.41,127.95 543.74,128.43 543.07,128.82 C542.4,129.21 541.73,129.5 541.06,129.74 C540.39,129.98 539.72,130.14 539.05,130.26 C538.38,130.38 537.71,130.43 537.04,130.46 C536.37,130.49 535.7,130.47 535.03,130.44 C534.36,130.41 533.69,130.35 533.02,130.28 C532.35,130.21 531.68,130.13 531.01,130.05 C530.34,129.96 529.67,129.86 529,129.75 C528.33,129.64 527.66,129.52 526.99,129.39 C526.32,129.26 525.65,129.12 524.98,128.97 C524.31,128.82 523.63,128.66 522.96,128.49 C522.29,128.32 521.62,128.14 520.95,127.95 C520.28,127.77 519.61,127.57 518.94,127.37 C518.27,127.16 517.6,126.95 516.93,126.73 C516.26,126.51 515.59,126.28 514.92,126.04 C514.25,125.81 513.58,125.56 512.91,125.31 C512.24,125.06 511.57,124.8 510.9,124.54 C510.23,124.27 509.56,124 508.89,123.72 C508.22,123.44 507.55,123.16 506.88,122.87 C506.21,122.57 505.54,122.27 504.87,121.97 C504.2,121.67 503.53,121.36 502.85,121.04 C502.18,120.72 501.51,120.4 500.84,120.07 C500.17,119.75 499.5,119.41 498.83,119.07 C498.16,118.74 497.49,118.39 496.82,118.04 C496.15,117.7 495.48,117.34 494.81,116.99 C494.14,116.63 493.14,116.08 492.8,115.9 Z" fill="#d9d9d9" clip-path="url(#c3)"/>
<rect x="493.3" y="149.8" width="7.72" height="2.05" fill="#f0f0f0" stroke="#111" stroke-width="0.8"/>
<rect x="501.02" y="149.8" width="7.72" height="2.05" fill="#f0f0f0" stroke="#111" stroke-width="0.8"/>
<rect x="508.74" y="149.8" width="7.72" height="2.05" fill="#f0f0f0" stroke="#111" stroke-width="0.8"/>
<rect x="516.46" y="149.3" width="7.72" height="2.55" fill="#f0f0f0" stroke="#111" stroke-width="0.8"/>
<rect x="524.18" y="147.2" width="7.72" height="4.65" fill="#f0f0f0" stroke="#111" stroke-width="0.8"/>
<rect x="531.9" y="145.1" width="7.72" height="6.75" fill="#f0f0f0" stroke="#111" stroke-width="0.8"/>
<rect x="539.62" y="138.1" width="7.72" height="13.75" fill="#f0f0f0" stroke="#111" stroke-width="0.8"/>
<rect x="547.34" y="125" width="7.72" height="26.85" fill="#f0f0f0" stroke="#111" stroke-width="0.8"/>
<rect x="555.06" y="124.4" width="7.72" height="27.45" fill="#f0f0f0" stroke="#111" stroke-width="0.8"/>
<rect x="562.78" y="125" width="7.72" height="26.85" fill="#f0f0f0" stroke="#111" stroke-width="0.8"/>
<rect x="570.5" y="130.3" width="7.72" height="21.55" fill="#f0f0f0" stroke="#111" stroke-width="0.8"/>
<rect x="578.22" y="132.6" width="7.72" height="19.25" fill="#f0f0f0" stroke="#111" stroke-width="0.8"/>
<rect x="585.94" y="135.5" width="7.72" height="16.35" fill="#f0f0f0" stroke="#111" stroke-width="0.8"/>
<rect x="593.66" y="139.6" width="7.72" height="12.25" fill="#f0f0f0" stroke="#111" stroke-width="0.8"/>
<rect x="601.38" y="142.5" width="7.72" height="9.35" fill="#f0f0f0" stroke="#111" stroke-width="0.8"/>
<rect x="609.1" y="144.3" width="7.72" height="7.55" fill="#f0f0f0" stroke="#111" stroke-width="0.8"/>
<rect x="616.82" y="145.8" width="7.72" height="6.05" fill="#f0f0f0" stroke="#111" stroke-width="0.8"/>
<rect x="624.54" y="146.6" width="7.72" height="5.25" fill="#f0f0f0" stroke="#111" stroke-width="0.8"/>
<rect x="632.26" y="148.6" width="7.72" height="3.25" fill="#f0f0f0" stroke="#111" stroke-width="0.8"/>
<line x1="555.3" y1="47.4" x2="555.3" y2="151.85" stroke="#8e8e8e" stroke-width="1.3" stroke-dasharray="2.7 3.0" stroke-dashoffset="0.7"/>
<line x1="586.4" y1="47.4" x2="586.4" y2="151.85" stroke="#8e8e8e" stroke-width="1.3" stroke-dasharray="2.7 3.0" stroke-dashoffset="0.7"/>
<line x1="606.6" y1="47.4" x2="606.6" y2="151.85" stroke="#3a3a3a" stroke-width="1.3" stroke-dasharray="2.7 3.0" stroke-dashoffset="0.7"/>
<line x1="487.4" y1="115.7" x2="661.8" y2="115.7" stroke="#5e5e5e" stroke-width="1.6"/>
<path d="M492.8,115.8 C493.14,115.85 494.14,115.98 494.82,116.06 C495.49,116.15 496.16,116.23 496.83,116.32 C497.5,116.4 498.17,116.48 498.85,116.56 C499.52,116.65 500.19,116.73 500.86,116.8 C501.53,116.88 502.2,116.96 502.88,117.03 C503.55,117.11 504.22,117.18 504.89,117.25 C505.56,117.32 506.23,117.38 506.91,117.45 C507.58,117.51 508.25,117.57 508.92,117.63 C509.59,117.68 510.26,117.74 510.94,117.78 C511.61,117.83 512.28,117.88 512.95,117.92 C513.62,117.96 514.29,117.99 514.97,118.02 C515.64,118.05 516.31,118.08 516.98,118.1 C517.65,118.12 518.32,118.13 519,118.14 C519.67,118.15 520.34,118.16 521.01,118.15 C521.68,118.15 522.35,118.14 523.03,118.12 C523.7,118.11 524.37,118.08 525.04,118.05 C525.71,118.02 526.38,117.99 527.06,117.94 C527.73,117.9 528.4,117.84 529.07,117.78 C529.74,117.72 530.41,117.65 531.09,117.58 C531.76,117.5 532.43,117.41 533.1,117.32 C533.77,117.22 534.44,117.12 535.12,117.01 C535.79,116.89 536.46,116.77 537.13,116.64 C537.8,116.51 538.47,116.37 539.15,116.23 C539.82,116.08 540.49,115.92 541.16,115.76 C541.83,115.6 542.51,115.43 543.18,115.25 C543.85,115.07 544.52,114.88 545.19,114.68 C545.86,114.49 546.54,114.29 547.21,114.08 C547.88,113.87 548.55,113.65 549.22,113.43 C549.89,113.2 550.57,112.97 551.24,112.73 C551.91,112.5 552.58,112.25 553.25,112 C553.92,111.75 554.6,111.49 555.27,111.23 C555.94,110.96 556.61,110.69 557.28,110.42 C557.95,110.14 558.63,109.86 559.3,109.57 C559.97,109.28 560.64,108.99 561.31,108.69 C561.98,108.39 562.66,108.08 563.33,107.78 C564,107.47 564.67,107.15 565.34,106.84 C566.01,106.52 566.69,106.2 567.36,105.88 C568.03,105.56 568.7,105.24 569.37,104.92 C570.04,104.6 570.72,104.27 571.39,103.95 C572.06,103.63 572.73,103.31 573.4,103 C574.07,102.68 574.75,102.37 575.42,102.06 C576.09,101.75 576.76,101.45 577.43,101.15 C578.1,100.85 578.78,100.56 579.45,100.28 C580.12,99.99 580.79,99.71 581.46,99.44 C582.13,99.17 582.81,98.91 583.48,98.65 C584.15,98.39 584.82,98.14 585.49,97.89 C586.16,97.64 586.84,97.4 587.51,97.16 C588.18,96.92 588.85,96.69 589.52,96.46 C590.19,96.22 590.87,95.99 591.54,95.77 C592.21,95.54 592.88,95.31 593.55,95.09 C594.23,94.86 594.9,94.64 595.57,94.42 C596.24,94.19 596.91,93.97 597.58,93.75 C598.26,93.53 598.93,93.31 599.6,93.1 C600.27,92.88 600.94,92.66 601.61,92.45 C602.29,92.23 602.96,92.02 603.63,91.81 C604.3,91.59 604.97,91.38 605.64,91.17 C606.32,90.96 606.99,90.75 607.66,90.54 C608.33,90.33 609,90.12 609.67,89.91 C610.35,89.71 611.02,89.5 611.69,89.29 C612.36,89.09 613.03,88.88 613.7,88.68 C614.38,88.47 615.05,88.27 615.72,88.07 C616.39,87.86 617.06,87.66 617.73,87.46 C618.41,87.26 619.08,87.06 619.75,86.86 C620.42,86.65 621.09,86.45 621.76,86.25 C622.44,86.05 623.11,85.85 623.78,85.65 C624.45,85.46 625.12,85.26 625.79,85.06 C626.47,84.86 627.14,84.66 627.81,84.46 C628.48,84.26 629.15,84.07 629.82,83.87 C630.5,83.67 631.17,83.47 631.84,83.27 C632.51,83.08 633.18,82.88 633.85,82.68 C634.53,82.48 635.2,82.28 635.87,82.09 C636.54,81.89 637.21,81.69 637.88,81.49 C638.56,81.29 639.56,81 639.9,80.9" fill="none" stroke="#B0163E" stroke-width="2" stroke-linecap="round" clip-path="url(#c3)"/>
<line x1="487.4" y1="47.4" x2="487.4" y2="151.85" stroke="#666" stroke-width="1.8"/>
<line x1="486.5" y1="151.85" x2="661.8" y2="151.85" stroke="#7e7e7e" stroke-width="1.8"/>
<line x1="484.4" y1="115.7" x2="487.4" y2="115.7" stroke="#555" stroke-width="1"/>
<text x="482.3" y="115.7" transform="rotate(-90 482.3 115.7)" text-anchor="middle" class="tk">1.0</text>
<line x1="484.4" y1="98.62" x2="487.4" y2="98.62" stroke="#555" stroke-width="1"/>
<text x="482.3" y="98.62" transform="rotate(-90 482.3 98.62)" text-anchor="middle" class="tk">1.2</text>
<line x1="484.4" y1="81.55" x2="487.4" y2="81.55" stroke="#555" stroke-width="1"/>
<text x="482.3" y="81.55" transform="rotate(-90 482.3 81.55)" text-anchor="middle" class="tk">1.4</text>
<line x1="484.4" y1="64.47" x2="487.4" y2="64.47" stroke="#555" stroke-width="1"/>
<text x="482.3" y="64.47" transform="rotate(-90 482.3 64.47)" text-anchor="middle" class="tk">1.6</text>
<line x1="484.4" y1="47.4" x2="487.4" y2="47.4" stroke="#555" stroke-width="1"/>
<text x="482.3" y="47.4" transform="rotate(-90 482.3 47.4)" text-anchor="middle" class="tk">1.8</text>
<line x1="493.4" y1="151.85" x2="493.4" y2="153.65" stroke="#555" stroke-width="1"/>
<text x="493.4" y="160.2" text-anchor="middle" class="tk">0</text>
<line x1="515.9" y1="151.85" x2="515.9" y2="153.65" stroke="#555" stroke-width="1"/>
<text x="515.9" y="160.2" text-anchor="middle" class="tk">1</text>
<line x1="538.4" y1="151.85" x2="538.4" y2="153.65" stroke="#555" stroke-width="1"/>
<text x="538.4" y="160.2" text-anchor="middle" class="tk">2</text>
<line x1="560.9" y1="151.85" x2="560.9" y2="153.65" stroke="#555" stroke-width="1"/>
<text x="560.9" y="160.2" text-anchor="middle" class="tk">3</text>
<line x1="583.4" y1="151.85" x2="583.4" y2="153.65" stroke="#555" stroke-width="1"/>
<text x="583.4" y="160.2" text-anchor="middle" class="tk">4</text>
<line x1="605.9" y1="151.85" x2="605.9" y2="153.65" stroke="#555" stroke-width="1"/>
<text x="605.9" y="160.2" text-anchor="middle" class="tk">5</text>
<line x1="628.4" y1="151.85" x2="628.4" y2="153.65" stroke="#555" stroke-width="1"/>
<text x="628.4" y="160.2" text-anchor="middle" class="tk">6</text>
<line x1="650.9" y1="151.85" x2="650.9" y2="153.65" stroke="#555" stroke-width="1"/>
<text x="650.9" y="160.2" text-anchor="middle" class="tk">7</text>
<line x1="661.8" y1="124.4" x2="661.8" y2="151.85" stroke="#8c8c8c" stroke-width="1.1"/>
<line x1="661.8" y1="124.4" x2="663.8" y2="124.4" stroke="#8c8c8c" stroke-width="1"/>
<text x="666.9" y="127.1" class="tk">200</text>
<line x1="661.8" y1="137.3" x2="663.8" y2="137.3" stroke="#8c8c8c" stroke-width="1"/>
<text x="666.9" y="140" class="tk">100</text>
<line x1="661.8" y1="150.4" x2="663.8" y2="150.4" stroke="#8c8c8c" stroke-width="1"/>
<text x="666.9" y="153.1" class="tk">0</text>
<text x="574.6" y="168.9" text-anchor="middle" class="xl">CEHWI (°C)</text>
<text x="545.8" y="53.9" class="pl" fill="#666" stroke="#666" text-anchor="start">25<tspan class="sup" dx="-0.5" dy="-3.0">th</tspan></text>
<text x="577.7" y="53.9" class="pl" fill="#666" stroke="#666" text-anchor="start">75<tspan class="sup" dx="-0.5" dy="-3.0">th</tspan></text>
<text x="608.6" y="53.9" class="pl" fill="#111" stroke="#111" text-anchor="start">90<tspan class="sup" dx="-0.5" dy="-3.0">th</tspan></text>
<text x="14.3" y="208.3" class="hd">b South Korea</text>
<path d="M0.5,215.5 H684.5 V362.5" fill="none" stroke="#808080" stroke-width="1"/>
<path d="M0.5,215.5 V362.5" fill="none" stroke="#808080" stroke-width="1"/>
<line x1="0" y1="362.5" x2="685" y2="362.5" stroke="#808080" stroke-width="1"/>
<clipPath id="c4"><rect x="30" y="229.2" width="174.7" height="104.3"/></clipPath>
<path d="M35.8,297.31 C36.13,297.27 37.14,297.14 37.81,297.08 C38.48,297.01 39.15,296.96 39.81,296.92 C40.48,296.87 41.15,296.84 41.82,296.81 C42.49,296.78 43.16,296.76 43.83,296.73 C44.5,296.71 45.17,296.69 45.84,296.67 C46.51,296.65 47.18,296.63 47.84,296.6 C48.51,296.58 49.18,296.55 49.85,296.51 C50.52,296.47 51.19,296.43 51.86,296.38 C52.53,296.32 53.2,296.26 53.87,296.18 C54.54,296.1 55.2,296.01 55.87,295.91 C56.54,295.8 57.21,295.68 57.88,295.53 C58.55,295.39 59.22,295.23 59.89,295.04 C60.56,294.85 61.23,294.65 61.9,294.41 C62.57,294.18 63.23,293.92 63.9,293.63 C64.57,293.34 65.24,293.03 65.91,292.68 C66.58,292.33 67.25,291.95 67.92,291.53 C68.59,291.12 69.26,290.67 69.93,290.18 C70.6,289.7 71.26,289.18 71.93,288.63 C72.6,288.08 73.27,287.49 73.94,286.86 C74.61,286.24 75.28,285.58 75.95,284.89 C76.62,284.21 77.29,283.48 77.96,282.77 C78.62,282.06 79.29,281.33 79.96,280.64 C80.63,279.95 81.3,279.26 81.97,278.64 C82.64,278.02 83.31,277.43 83.98,276.94 C84.65,276.45 85.32,276.02 85.99,275.71 C86.65,275.4 87.32,275.18 87.99,275.11 C88.66,275.04 89.67,275.27 90,275.3 L90,295.8 C89.67,295.79 88.66,295.75 87.99,295.75 C87.32,295.75 86.65,295.78 85.99,295.82 C85.32,295.85 84.65,295.91 83.98,295.99 C83.31,296.06 82.64,296.15 81.97,296.25 C81.3,296.35 80.63,296.47 79.96,296.59 C79.29,296.72 78.62,296.85 77.96,297 C77.29,297.14 76.62,297.29 75.95,297.45 C75.28,297.61 74.61,297.77 73.94,297.94 C73.27,298.1 72.6,298.28 71.93,298.45 C71.26,298.62 70.6,298.79 69.93,298.96 C69.26,299.13 68.59,299.3 67.92,299.47 C67.25,299.63 66.58,299.8 65.91,299.95 C65.24,300.11 64.57,300.26 63.9,300.4 C63.23,300.54 62.57,300.68 61.9,300.8 C61.23,300.92 60.56,301.04 59.89,301.14 C59.22,301.24 58.55,301.33 57.88,301.4 C57.21,301.48 56.54,301.54 55.87,301.59 C55.2,301.63 54.54,301.66 53.87,301.68 C53.2,301.69 52.53,301.69 51.86,301.66 C51.19,301.64 50.52,301.6 49.85,301.55 C49.18,301.49 48.51,301.41 47.84,301.32 C47.18,301.22 46.51,301.11 45.84,300.98 C45.17,300.85 44.5,300.7 43.83,300.52 C43.16,300.35 42.49,300.16 41.82,299.95 C41.15,299.74 40.48,299.51 39.81,299.26 C39.15,299 38.48,298.73 37.81,298.44 C37.14,298.14 36.13,297.65 35.8,297.49 Z" fill="#d9d9d9" clip-path="url(#c4)"/>
<rect x="36.5" y="314.3" width="3.31" height="19.2" fill="#f0f0f0" stroke="#111" stroke-width="0.8"/>
<rect x="39.81" y="306.2" width="3.31" height="27.3" fill="#f0f0f0" stroke="#111" stroke-width="0.8"/>
<rect x="43.13" y="309.5" width="3.31" height="24" fill="#f0f0f0" stroke="#111" stroke-width="0.8"/>
<rect x="46.45" y="310.8" width="3.31" height="22.7" fill="#f0f0f0" stroke="#111" stroke-width="0.8"/>
<rect x="49.76" y="318.2" width="3.31" height="15.3" fill="#f0f0f0" stroke="#111" stroke-width="0.8"/>
<rect x="53.08" y="318.6" width="3.31" height="14.9" fill="#f0f0f0" stroke="#111" stroke-width="0.8"/>
<rect x="56.39" y="321.3" width="3.31" height="12.2" fill="#f0f0f0" stroke="#111" stroke-width="0.8"/>
<rect x="59.7" y="324.5" width="3.31" height="9" fill="#f0f0f0" stroke="#111" stroke-width="0.8"/>
<rect x="63.02" y="325.4" width="3.31" height="8.1" fill="#f0f0f0" stroke="#111" stroke-width="0.8"/>
<rect x="66.34" y="323.5" width="3.31" height="10" fill="#f0f0f0" stroke="#111" stroke-width="0.8"/>
<rect x="69.65" y="326.8" width="3.31" height="6.7" fill="#f0f0f0" stroke="#111" stroke-width="0.8"/>
<rect x="72.97" y="327.6" width="3.31" height="5.9" fill="#f0f0f0" stroke="#111" stroke-width="0.8"/>
<rect x="76.28" y="328.2" width="3.31" height="5.3" fill="#f0f0f0" stroke="#111" stroke-width="0.8"/>
<rect x="79.59" y="332.6" width="3.31" height="0.9" fill="#f0f0f0" stroke="#111" stroke-width="0.8"/>
<rect x="82.91" y="331.1" width="3.31" height="2.4" fill="#f0f0f0" stroke="#111" stroke-width="0.8"/>
<rect x="86.22" y="331.1" width="3.31" height="2.4" fill="#f0f0f0" stroke="#111" stroke-width="0.8"/>
<rect x="89.54" y="332" width="3.31" height="1.5" fill="#f0f0f0" stroke="#111" stroke-width="0.8"/>
<rect x="92.85" y="331.7" width="3.31" height="1.8" fill="#f0f0f0" stroke="#111" stroke-width="0.8"/>
<rect x="96.17" y="332" width="3.31" height="1.5" fill="#f0f0f0" stroke="#111" stroke-width="0.8"/>
<rect x="99.48" y="332.9" width="3.31" height="0.6" fill="#f0f0f0" stroke="#111" stroke-width="0.8"/>
<line x1="43.3" y1="229.2" x2="43.3" y2="333.5" stroke="#7a7a7a" stroke-width="1.2" stroke-dasharray="2.7 3.0" stroke-dashoffset="1"/>
<line x1="62.3" y1="229.2" x2="62.3" y2="333.5" stroke="#7a7a7a" stroke-width="1.2" stroke-dasharray="2.7 3.0" stroke-dashoffset="1"/>
<line x1="74.5" y1="229.2" x2="74.5" y2="333.5" stroke="#262626" stroke-width="1.2" stroke-dasharray="2.7 3.0" stroke-dashoffset="1"/>
<line x1="30" y1="297.4" x2="204.7" y2="297.4" stroke="#505050" stroke-width="1.6"/>
<path d="M35.8,297.38 C36.14,297.46 37.16,297.72 37.83,297.88 C38.51,298.04 39.19,298.18 39.87,298.32 C40.54,298.46 41.22,298.59 41.9,298.71 C42.58,298.82 43.26,298.93 43.93,299.03 C44.61,299.12 45.29,299.21 45.97,299.28 C46.64,299.35 47.32,299.41 48,299.45 C48.68,299.5 49.36,299.53 50.03,299.55 C50.71,299.56 51.39,299.57 52.07,299.55 C52.74,299.54 53.42,299.51 54.1,299.47 C54.78,299.42 55.46,299.37 56.13,299.29 C56.81,299.21 57.49,299.12 58.17,299 C58.84,298.89 59.52,298.76 60.2,298.61 C60.88,298.46 61.56,298.29 62.23,298.11 C62.91,297.92 63.59,297.71 64.27,297.48 C64.94,297.25 65.62,297 66.3,296.73 C66.98,296.46 67.66,296.17 68.33,295.86 C69.01,295.55 69.69,295.22 70.37,294.88 C71.04,294.54 71.72,294.19 72.4,293.83 C73.08,293.47 73.76,293.1 74.43,292.74 C75.11,292.37 75.79,291.99 76.47,291.63 C77.14,291.26 77.82,290.89 78.5,290.53 C79.18,290.17 79.86,289.82 80.53,289.48 C81.21,289.14 81.89,288.81 82.57,288.5 C83.24,288.19 83.92,287.89 84.6,287.62 C85.28,287.35 85.96,287.1 86.63,286.88 C87.31,286.65 87.99,286.45 88.67,286.29 C89.34,286.12 90.36,285.96 90.7,285.89" fill="none" stroke="#1B9DBE" stroke-width="2" stroke-linecap="round" clip-path="url(#c4)"/>
<line x1="30" y1="229.2" x2="30" y2="333.5" stroke="#7e7e7e" stroke-width="1.8"/>
<line x1="29.1" y1="333.5" x2="204.7" y2="333.5" stroke="#666" stroke-width="1.8"/>
<line x1="27" y1="297.4" x2="30" y2="297.4" stroke="#555" stroke-width="1"/>
<text x="24.9" y="297.4" transform="rotate(-90 24.9 297.4)" text-anchor="middle" class="tk">1.0</text>
<line x1="27" y1="280.35" x2="30" y2="280.35" stroke="#555" stroke-width="1"/>
<text x="24.9" y="280.35" transform="rotate(-90 24.9 280.35)" text-anchor="middle" class="tk">1.2</text>
<line x1="27" y1="263.3" x2="30" y2="263.3" stroke="#555" stroke-width="1"/>
<text x="24.9" y="263.3" transform="rotate(-90 24.9 263.3)" text-anchor="middle" class="tk">1.4</text>
<line x1="27" y1="246.25" x2="30" y2="246.25" stroke="#555" stroke-width="1"/>
<text x="24.9" y="246.25" transform="rotate(-90 24.9 246.25)" text-anchor="middle" class="tk">1.6</text>
<line x1="27" y1="229.2" x2="30" y2="229.2" stroke="#555" stroke-width="1"/>
<text x="24.9" y="229.2" transform="rotate(-90 24.9 229.2)" text-anchor="middle" class="tk">1.8</text>
<line x1="36.3" y1="333.5" x2="36.3" y2="335.3" stroke="#555" stroke-width="1"/>
<text x="36.3" y="341.7" text-anchor="middle" class="tk">0</text>
<line x1="58.75" y1="333.5" x2="58.75" y2="335.3" stroke="#555" stroke-width="1"/>
<text x="58.75" y="341.7" text-anchor="middle" class="tk">1</text>
<line x1="81.2" y1="333.5" x2="81.2" y2="335.3" stroke="#555" stroke-width="1"/>
<text x="81.2" y="341.7" text-anchor="middle" class="tk">2</text>
<line x1="103.65" y1="333.5" x2="103.65" y2="335.3" stroke="#555" stroke-width="1"/>
<text x="103.65" y="341.7" text-anchor="middle" class="tk">3</text>
<line x1="126.1" y1="333.5" x2="126.1" y2="335.3" stroke="#555" stroke-width="1"/>
<text x="126.1" y="341.7" text-anchor="middle" class="tk">4</text>
<line x1="148.55" y1="333.5" x2="148.55" y2="335.3" stroke="#555" stroke-width="1"/>
<text x="148.55" y="341.7" text-anchor="middle" class="tk">5</text>
<line x1="171" y1="333.5" x2="171" y2="335.3" stroke="#555" stroke-width="1"/>
<text x="171" y="341.7" text-anchor="middle" class="tk">6</text>
<line x1="193.45" y1="333.5" x2="193.45" y2="335.3" stroke="#555" stroke-width="1"/>
<text x="193.45" y="341.7" text-anchor="middle" class="tk">7</text>
<line x1="204.7" y1="306.4" x2="204.7" y2="333.5" stroke="#8c8c8c" stroke-width="1.1"/>
<line x1="204.7" y1="306.4" x2="206.7" y2="306.4" stroke="#8c8c8c" stroke-width="1"/>
<text x="208.8" y="309.1" class="tk">100</text>
<line x1="204.7" y1="319.2" x2="206.7" y2="319.2" stroke="#8c8c8c" stroke-width="1"/>
<text x="208.8" y="321.9" class="tk">50</text>
<line x1="204.7" y1="331.9" x2="206.7" y2="331.9" stroke="#8c8c8c" stroke-width="1"/>
<text x="208.8" y="334.6" class="tk">0</text>
<text x="117.4" y="351.2" text-anchor="middle" class="xl">CEHWI (°C)</text>
<text x="15.6" y="262.5" transform="rotate(-90 15.6 262.5)" text-anchor="middle" class="rr">Relative risk</text>
<text x="226.6" y="318.3" transform="rotate(-90 226.6 318.3)" text-anchor="middle" class="fq">Frequency</text>
<clipPath id="c5"><rect x="255.6" y="229.2" width="175" height="104.3"/></clipPath>
<path d="M261.5,297.5 C261.84,297.3 262.87,296.67 263.55,296.27 C264.23,295.87 264.92,295.48 265.6,295.1 C266.28,294.73 266.97,294.36 267.65,294.02 C268.33,293.67 269.02,293.34 269.7,293.03 C270.38,292.72 271.07,292.42 271.75,292.15 C272.43,291.88 273.12,291.63 273.8,291.4 C274.48,291.17 275.17,290.96 275.85,290.78 C276.53,290.6 277.22,290.44 277.9,290.32 C278.58,290.19 279.27,290.09 279.95,290.02 C280.63,289.95 281.32,289.91 282,289.9 C282.68,289.89 283.37,289.91 284.05,289.96 C284.73,290 285.42,290.08 286.1,290.16 C286.78,290.25 287.47,290.36 288.15,290.47 C288.83,290.58 289.52,290.72 290.2,290.84 C290.88,290.97 291.57,291.11 292.25,291.24 C292.93,291.37 293.62,291.5 294.3,291.61 C294.98,291.73 295.67,291.84 296.35,291.93 C297.03,292.01 297.72,292.09 298.4,292.14 C299.08,292.18 299.77,292.21 300.45,292.2 C301.13,292.19 301.82,292.16 302.5,292.07 C303.18,291.99 303.87,291.88 304.55,291.71 C305.23,291.54 305.92,291.34 306.6,291.07 C307.28,290.8 307.97,290.48 308.65,290.1 C309.33,289.71 310.02,289.28 310.7,288.76 C311.38,288.25 312.07,287.67 312.75,287.01 C313.43,286.35 314.12,285.62 314.8,284.8 C315.48,283.98 316.17,283.08 316.85,282.08 C317.53,281.09 318.22,280.01 318.9,278.82 C319.58,277.64 320.27,276.36 320.95,274.97 C321.63,273.58 322.66,271.23 323,270.48 L323,310.21 C322.66,309.88 321.63,308.87 320.95,308.27 C320.27,307.67 319.58,307.12 318.9,306.61 C318.22,306.1 317.53,305.64 316.85,305.22 C316.17,304.8 315.48,304.42 314.8,304.08 C314.12,303.74 313.43,303.44 312.75,303.18 C312.07,302.92 311.38,302.69 310.7,302.5 C310.02,302.31 309.33,302.15 308.65,302.02 C307.97,301.9 307.28,301.8 306.6,301.73 C305.92,301.66 305.23,301.62 304.55,301.6 C303.87,301.58 303.18,301.58 302.5,301.6 C301.82,301.62 301.13,301.66 300.45,301.71 C299.77,301.76 299.08,301.82 298.4,301.9 C297.72,301.97 297.03,302.05 296.35,302.14 C295.67,302.22 294.98,302.32 294.3,302.41 C293.62,302.5 292.93,302.6 292.25,302.69 C291.57,302.78 290.88,302.88 290.2,302.97 C289.52,303.06 288.83,303.15 288.15,303.23 C287.47,303.31 286.78,303.39 286.1,303.46 C285.42,303.52 284.73,303.58 284.05,303.63 C283.37,303.68 282.68,303.72 282,303.74 C281.32,303.77 280.63,303.78 279.95,303.77 C279.27,303.77 278.58,303.75 277.9,303.71 C277.22,303.67 276.53,303.61 275.85,303.53 C275.17,303.45 274.48,303.35 273.8,303.23 C273.12,303.1 272.43,302.96 271.75,302.78 C271.07,302.61 270.38,302.41 269.7,302.18 C269.02,301.95 268.33,301.7 267.65,301.41 C266.97,301.12 266.28,300.8 265.6,300.44 C264.92,300.09 264.23,299.7 263.55,299.28 C262.87,298.85 261.84,298.12 261.5,297.89 Z" fill="#d9d9d9" clip-path="url(#c5)"/>
<rect x="262.1" y="332.2" width="3.19" height="1.3" fill="#f0f0f0" stroke="#111" stroke-width="0.8"/>
<rect x="265.29" y="331.2" width="3.19" height="2.3" fill="#f0f0f0" stroke="#111" stroke-width="0.8"/>
<rect x="268.48" y="330.4" width="3.19" height="3.1" fill="#f0f0f0" stroke="#111" stroke-width="0.8"/>
<rect x="271.67" y="322.3" width="3.19" height="11.2" fill="#f0f0f0" stroke="#111" stroke-width="0.8"/>
<rect x="274.86" y="317.5" width="3.19" height="16" fill="#f0f0f0" stroke="#111" stroke-width="0.8"/>
<rect x="278.05" y="312.5" width="3.19" height="21" fill="#f0f0f0" stroke="#111" stroke-width="0.8"/>
<rect x="281.24" y="306.2" width="3.19" height="27.3" fill="#f0f0f0" stroke="#111" stroke-width="0.8"/>
<rect x="284.43" y="309.3" width="3.19" height="24.2" fill="#f0f0f0" stroke="#111" stroke-width="0.8"/>
<rect x="287.62" y="308.3" width="3.19" height="25.2" fill="#f0f0f0" stroke="#111" stroke-width="0.8"/>
<rect x="290.81" y="312.4" width="3.19" height="21.1" fill="#f0f0f0" stroke="#111" stroke-width="0.8"/>
<rect x="294" y="313.3" width="3.19" height="20.2" fill="#f0f0f0" stroke="#111" stroke-width="0.8"/>
<rect x="297.19" y="311.2" width="3.19" height="22.3" fill="#f0f0f0" stroke="#111" stroke-width="0.8"/>
<rect x="300.38" y="322.3" width="3.19" height="11.2" fill="#f0f0f0" stroke="#111" stroke-width="0.8"/>
<rect x="303.57" y="327.4" width="3.19" height="6.1" fill="#f0f0f0" stroke="#111" stroke-width="0.8"/>
<rect x="306.76" y="324.5" width="3.19" height="9" fill="#f0f0f0" stroke="#111" stroke-width="0.8"/>
<rect x="309.95" y="329.2" width="3.19" height="4.3" fill="#f0f0f0" stroke="#111" stroke-width="0.8"/>
<rect x="313.14" y="329.3" width="3.19" height="4.2" fill="#f0f0f0" stroke="#111" stroke-width="0.8"/>
<rect x="316.33" y="331.8" width="3.19" height="1.7" fill="#f0f0f0" stroke="#111" stroke-width="0.8"/>
<rect x="319.52" y="329.4" width="3.19" height="4.1" fill="#f0f0f0" stroke="#111" stroke-width="0.8"/>
<line x1="282.2" y1="229.2" x2="282.2" y2="333.5" stroke="#7a7a7a" stroke-width="1.2" stroke-dasharray="2.7 3.0" stroke-dashoffset="1"/>
<line x1="296.7" y1="229.2" x2="296.7" y2="333.5" stroke="#7a7a7a" stroke-width="1.2" stroke-dasharray="2.7 3.0" stroke-dashoffset="1"/>
<line x1="303.5" y1="229.2" x2="303.5" y2="333.5" stroke="#262626" stroke-width="1.2" stroke-dasharray="2.7 3.0" stroke-dashoffset="1"/>
<line x1="255.6" y1="297.3" x2="430.6" y2="297.3" stroke="#505050" stroke-width="1.6"/>
<path d="M261.5,297.71 C261.84,297.65 262.87,297.47 263.55,297.37 C264.23,297.28 264.92,297.19 265.6,297.12 C266.28,297.05 266.97,296.99 267.65,296.94 C268.33,296.89 269.02,296.86 269.7,296.83 C270.38,296.8 271.07,296.78 271.75,296.77 C272.43,296.76 273.12,296.76 273.8,296.77 C274.48,296.77 275.17,296.78 275.85,296.8 C276.53,296.82 277.22,296.84 277.9,296.87 C278.58,296.9 279.27,296.93 279.95,296.97 C280.63,297 281.32,297.04 282,297.08 C282.68,297.12 283.37,297.16 284.05,297.2 C284.73,297.24 285.42,297.29 286.1,297.33 C286.78,297.37 287.47,297.41 288.15,297.45 C288.83,297.49 289.52,297.52 290.2,297.55 C290.88,297.59 291.57,297.61 292.25,297.64 C292.93,297.66 293.62,297.68 294.3,297.69 C294.98,297.7 295.67,297.71 296.35,297.71 C297.03,297.71 297.72,297.7 298.4,297.68 C299.08,297.66 299.77,297.64 300.45,297.6 C301.13,297.56 301.82,297.52 302.5,297.46 C303.18,297.4 303.87,297.34 304.55,297.26 C305.23,297.18 305.92,297.09 306.6,296.98 C307.28,296.88 307.97,296.76 308.65,296.63 C309.33,296.5 310.02,296.35 310.7,296.19 C311.38,296.03 312.07,295.86 312.75,295.67 C313.43,295.49 314.12,295.29 314.8,295.08 C315.48,294.88 316.17,294.66 316.85,294.44 C317.53,294.22 318.22,293.99 318.9,293.75 C319.58,293.52 320.27,293.28 320.95,293.03 C321.63,292.79 322.66,292.42 323,292.3" fill="none" stroke="#1B9DBE" stroke-width="2" stroke-linecap="round" clip-path="url(#c5)"/>
<line x1="255.6" y1="229.2" x2="255.6" y2="333.5" stroke="#7e7e7e" stroke-width="1.8"/>
<line x1="254.7" y1="333.5" x2="430.6" y2="333.5" stroke="#666" stroke-width="1.8"/>
<line x1="252.6" y1="297.3" x2="255.6" y2="297.3" stroke="#555" stroke-width="1"/>
<text x="250.7" y="297.3" transform="rotate(-90 250.7 297.3)" text-anchor="middle" class="tk">1.0</text>
<line x1="252.6" y1="280.27" x2="255.6" y2="280.27" stroke="#555" stroke-width="1"/>
<text x="250.7" y="280.27" transform="rotate(-90 250.7 280.27)" text-anchor="middle" class="tk">1.2</text>
<line x1="252.6" y1="263.25" x2="255.6" y2="263.25" stroke="#555" stroke-width="1"/>
<text x="250.7" y="263.25" transform="rotate(-90 250.7 263.25)" text-anchor="middle" class="tk">1.4</text>
<line x1="252.6" y1="246.22" x2="255.6" y2="246.22" stroke="#555" stroke-width="1"/>
<text x="250.7" y="246.22" transform="rotate(-90 250.7 246.22)" text-anchor="middle" class="tk">1.6</text>
<line x1="252.6" y1="229.2" x2="255.6" y2="229.2" stroke="#555" stroke-width="1"/>
<text x="250.7" y="229.2" transform="rotate(-90 250.7 229.2)" text-anchor="middle" class="tk">1.8</text>
<line x1="261.8" y1="333.5" x2="261.8" y2="335.3" stroke="#555" stroke-width="1"/>
<text x="261.8" y="341.7" text-anchor="middle" class="tk">0</text>
<line x1="284.32" y1="333.5" x2="284.32" y2="335.3" stroke="#555" stroke-width="1"/>
<text x="284.32" y="341.7" text-anchor="middle" class="tk">1</text>
<line x1="306.84" y1="333.5" x2="306.84" y2="335.3" stroke="#555" stroke-width="1"/>
<text x="306.84" y="341.7" text-anchor="middle" class="tk">2</text>
<line x1="329.36" y1="333.5" x2="329.36" y2="335.3" stroke="#555" stroke-width="1"/>
<text x="329.36" y="341.7" text-anchor="middle" class="tk">3</text>
<line x1="351.88" y1="333.5" x2="351.88" y2="335.3" stroke="#555" stroke-width="1"/>
<text x="351.88" y="341.7" text-anchor="middle" class="tk">4</text>
<line x1="374.4" y1="333.5" x2="374.4" y2="335.3" stroke="#555" stroke-width="1"/>
<text x="374.4" y="341.7" text-anchor="middle" class="tk">5</text>
<line x1="396.92" y1="333.5" x2="396.92" y2="335.3" stroke="#555" stroke-width="1"/>
<text x="396.92" y="341.7" text-anchor="middle" class="tk">6</text>
<line x1="419.44" y1="333.5" x2="419.44" y2="335.3" stroke="#555" stroke-width="1"/>
<text x="419.44" y="341.7" text-anchor="middle" class="tk">7</text>
<line x1="430.6" y1="306.4" x2="430.6" y2="333.5" stroke="#8c8c8c" stroke-width="1.1"/>
<line x1="430.6" y1="306.4" x2="432.6" y2="306.4" stroke="#8c8c8c" stroke-width="1"/>
<text x="434.6" y="309.1" class="tk">100</text>
<line x1="430.6" y1="319.2" x2="432.6" y2="319.2" stroke="#8c8c8c" stroke-width="1"/>
<text x="434.6" y="321.9" class="tk">50</text>
<line x1="430.6" y1="332" x2="432.6" y2="332" stroke="#8c8c8c" stroke-width="1"/>
<text x="434.6" y="334.7" class="tk">0</text>
<text x="343" y="350.9" text-anchor="middle" class="xl">CEHWI (°C)</text>
<clipPath id="c6"><rect x="481.7" y="229.1" width="174" height="104.4"/></clipPath>
<path d="M487.3,297.41 C487.64,296.95 488.65,295.58 489.32,294.63 C490,293.67 490.68,292.7 491.35,291.71 C492.03,290.72 492.7,289.71 493.38,288.69 C494.05,287.67 494.73,286.64 495.4,285.61 C496.08,284.57 496.75,283.52 497.43,282.48 C498.1,281.44 498.77,280.39 499.45,279.35 C500.12,278.31 500.8,277.27 501.48,276.24 C502.15,275.22 502.82,274.19 503.5,273.19 C504.18,272.19 504.85,271.19 505.53,270.22 C506.2,269.26 506.88,268.3 507.55,267.37 C508.23,266.45 508.9,265.54 509.57,264.67 C510.25,263.8 510.93,262.96 511.6,262.15 C512.27,261.34 512.95,260.57 513.62,259.84 C514.3,259.1 514.98,258.41 515.65,257.76 C516.32,257.12 517,256.51 517.67,255.96 C518.35,255.41 519.03,254.91 519.7,254.46 C520.38,254.02 521.05,253.62 521.73,253.3 C522.4,252.97 523.08,252.7 523.75,252.5 C524.42,252.29 525.1,252.15 525.77,252.09 C526.45,252.03 527.12,252.03 527.8,252.11 C528.47,252.19 529.15,252.35 529.83,252.59 C530.5,252.82 531.18,253.13 531.85,253.51 C532.52,253.88 533.2,254.33 533.88,254.84 C534.55,255.35 535.23,255.93 535.9,256.56 C536.57,257.19 537.25,257.89 537.92,258.64 C538.6,259.39 539.28,260.19 539.95,261.04 C540.62,261.89 541.3,262.8 541.98,263.74 C542.65,264.67 543.33,265.66 544,266.66 C544.67,267.66 545.35,268.7 546.02,269.74 C546.7,270.78 547.38,271.85 548.05,272.9 C548.72,273.96 549.4,275.03 550.08,276.08 C550.75,277.13 551.43,278.2 552.1,279.2 C552.77,280.19 553.45,281.18 554.12,282.05 C554.8,282.91 555.48,283.73 556.15,284.38 C556.82,285.04 557.5,285.6 558.17,285.95 C558.85,286.31 559.53,286.51 560.2,286.5 C560.88,286.5 561.55,286.26 562.23,285.94 C562.9,285.62 563.58,285.11 564.25,284.58 C564.92,284.04 565.6,283.4 566.27,282.74 C566.95,282.07 567.62,281.33 568.3,280.59 C568.97,279.86 569.65,279.07 570.33,278.31 C571,277.54 571.68,276.76 572.35,276.02 C573.02,275.29 573.7,274.55 574.38,273.89 C575.05,273.23 575.73,272.6 576.4,272.07 C577.07,271.53 577.75,271.07 578.42,270.68 C579.1,270.28 579.78,269.97 580.45,269.7 C581.12,269.43 581.8,269.23 582.48,269.07 C583.15,268.91 583.83,268.8 584.5,268.72 C585.17,268.65 585.85,268.61 586.52,268.6 C587.2,268.58 587.88,268.6 588.55,268.62 C589.22,268.64 589.9,268.69 590.58,268.73 C591.25,268.77 591.93,268.83 592.6,268.86 C593.27,268.9 593.95,268.94 594.62,268.95 C595.3,268.96 595.98,268.98 596.65,268.91 C597.32,268.83 598,268.75 598.67,268.5 C599.35,268.26 600.03,267.95 600.7,267.44 C601.38,266.92 602.05,266.29 602.73,265.41 C603.4,264.53 604.08,263.48 604.75,262.13 C605.42,260.78 606.1,259.14 606.77,257.31 C607.45,255.49 608.12,253.27 608.8,251.17 C609.47,249.08 610.15,246.82 610.83,244.72 C611.5,242.63 612.18,240.64 612.85,238.59 C613.52,236.54 614.2,234.52 614.88,232.41 C615.55,230.29 616.23,228.03 616.9,225.9 C617.57,223.78 618.25,221.5 618.92,219.63 C619.6,217.77 620.28,215.87 620.95,214.7 C621.62,213.53 622.3,212.59 622.98,212.64 C623.65,212.69 624.66,214.61 625,215 L625,290.1 C624.66,289.91 623.65,289.41 622.98,288.99 C622.3,288.58 621.62,288.1 620.95,287.6 C620.28,287.1 619.6,286.56 618.92,286.01 C618.25,285.46 617.57,284.88 616.9,284.31 C616.23,283.74 615.55,283.15 614.88,282.59 C614.2,282.03 613.52,281.47 612.85,280.94 C612.18,280.42 611.5,279.9 610.83,279.45 C610.15,278.99 609.47,278.56 608.8,278.2 C608.12,277.84 607.45,277.51 606.77,277.28 C606.1,277.06 605.42,276.89 604.75,276.85 C604.08,276.82 603.4,276.89 602.73,277.08 C602.05,277.28 601.38,277.61 600.7,278.01 C600.03,278.41 599.35,278.93 598.67,279.48 C598,280.04 597.32,280.69 596.65,281.35 C595.98,282.01 595.3,282.74 594.62,283.45 C593.95,284.16 593.27,284.91 592.6,285.62 C591.93,286.33 591.25,287.05 590.58,287.72 C589.9,288.38 589.22,289.02 588.55,289.63 C587.88,290.23 587.2,290.8 586.52,291.33 C585.85,291.86 585.17,292.36 584.5,292.82 C583.83,293.28 583.15,293.71 582.48,294.09 C581.8,294.47 581.12,294.82 580.45,295.12 C579.78,295.42 579.1,295.69 578.42,295.9 C577.75,296.12 577.07,296.3 576.4,296.43 C575.73,296.56 575.05,296.65 574.38,296.69 C573.7,296.73 573.02,296.72 572.35,296.67 C571.68,296.61 571,296.51 570.33,296.36 C569.65,296.21 568.97,295.99 568.3,295.76 C567.62,295.53 566.95,295.23 566.27,294.98 C565.6,294.73 564.92,294.44 564.25,294.23 C563.58,294.02 562.9,293.81 562.23,293.71 C561.55,293.61 560.88,293.54 560.2,293.62 C559.53,293.69 558.85,293.84 558.17,294.15 C557.5,294.47 556.82,294.93 556.15,295.5 C555.48,296.06 554.8,296.79 554.12,297.56 C553.45,298.34 552.77,299.23 552.1,300.13 C551.43,301.04 550.75,302.02 550.08,302.98 C549.4,303.94 548.72,304.95 548.05,305.89 C547.38,306.83 546.7,307.77 546.02,308.62 C545.35,309.47 544.67,310.27 544,310.99 C543.33,311.72 542.65,312.38 541.98,312.99 C541.3,313.59 540.62,314.13 539.95,314.62 C539.28,315.12 538.6,315.55 537.92,315.94 C537.25,316.33 536.57,316.66 535.9,316.96 C535.23,317.25 534.55,317.5 533.88,317.71 C533.2,317.92 532.52,318.09 531.85,318.22 C531.18,318.36 530.5,318.46 529.83,318.53 C529.15,318.6 528.47,318.64 527.8,318.65 C527.12,318.67 526.45,318.65 525.77,318.62 C525.1,318.59 524.42,318.54 523.75,318.47 C523.08,318.4 522.4,318.31 521.73,318.2 C521.05,318.09 520.38,317.97 519.7,317.82 C519.03,317.68 518.35,317.52 517.67,317.34 C517,317.15 516.32,316.96 515.65,316.74 C514.98,316.52 514.3,316.29 513.62,316.04 C512.95,315.79 512.27,315.52 511.6,315.23 C510.93,314.94 510.25,314.64 509.57,314.32 C508.9,313.99 508.23,313.66 507.55,313.3 C506.88,312.94 506.2,312.57 505.53,312.18 C504.85,311.79 504.18,311.38 503.5,310.95 C502.82,310.53 502.15,310.09 501.48,309.63 C500.8,309.17 500.12,308.7 499.45,308.2 C498.77,307.71 498.1,307.2 497.43,306.68 C496.75,306.15 496.08,305.61 495.4,305.06 C494.73,304.5 494.05,303.92 493.38,303.33 C492.7,302.75 492.03,302.14 491.35,301.52 C490.68,300.9 490,300.26 489.32,299.6 C488.65,298.95 487.64,297.93 487.3,297.6 Z" fill="#d9d9d9" clip-path="url(#c6)"/>
<rect x="487.3" y="331.8" width="7.23" height="1.7" fill="#f0f0f0" stroke="#111" stroke-width="0.8"/>
<rect x="494.53" y="331.8" width="7.23" height="1.7" fill="#f0f0f0" stroke="#111" stroke-width="0.8"/>
<rect x="501.76" y="331.8" width="7.23" height="1.7" fill="#f0f0f0" stroke="#111" stroke-width="0.8"/>
<rect x="508.99" y="333" width="7.23" height="0.5" fill="#f0f0f0" stroke="#111" stroke-width="0.8"/>
<rect x="516.22" y="327.8" width="7.23" height="5.7" fill="#f0f0f0" stroke="#111" stroke-width="0.8"/>
<rect x="523.45" y="324.3" width="7.23" height="9.2" fill="#f0f0f0" stroke="#111" stroke-width="0.8"/>
<rect x="530.68" y="313.4" width="7.23" height="20.1" fill="#f0f0f0" stroke="#111" stroke-width="0.8"/>
<rect x="537.91" y="315.2" width="7.23" height="18.3" fill="#f0f0f0" stroke="#111" stroke-width="0.8"/>
<rect x="545.14" y="310.3" width="7.23" height="23.2" fill="#f0f0f0" stroke="#111" stroke-width="0.8"/>
<rect x="552.37" y="306.5" width="7.23" height="27" fill="#f0f0f0" stroke="#111" stroke-width="0.8"/>
<rect x="559.6" y="310.4" width="7.23" height="23.1" fill="#f0f0f0" stroke="#111" stroke-width="0.8"/>
<rect x="566.83" y="314.3" width="7.23" height="19.2" fill="#f0f0f0" stroke="#111" stroke-width="0.8"/>
<rect x="574.06" y="310.5" width="7.23" height="23" fill="#f0f0f0" stroke="#111" stroke-width="0.8"/>
<rect x="581.29" y="317.5" width="7.23" height="16" fill="#f0f0f0" stroke="#111" stroke-width="0.8"/>
<rect x="588.52" y="312.4" width="7.23" height="21.1" fill="#f0f0f0" stroke="#111" stroke-width="0.8"/>
<rect x="595.75" y="318.5" width="7.23" height="15" fill="#f0f0f0" stroke="#111" stroke-width="0.8"/>
<rect x="602.98" y="321.3" width="7.23" height="12.2" fill="#f0f0f0" stroke="#111" stroke-width="0.8"/>
<rect x="610.21" y="319.4" width="7.23" height="14.1" fill="#f0f0f0" stroke="#111" stroke-width="0.8"/>
<rect x="617.44" y="322.6" width="7.23" height="10.9" fill="#f0f0f0" stroke="#111" stroke-width="0.8"/>
<line x1="550.2" y1="229.1" x2="550.2" y2="333.5" stroke="#7a7a7a" stroke-width="1.2" stroke-dasharray="2.7 3.0" stroke-dashoffset="1"/>
<line x1="591.1" y1="229.1" x2="591.1" y2="333.5" stroke="#7a7a7a" stroke-width="1.2" stroke-dasharray="2.7 3.0" stroke-dashoffset="1"/>
<line x1="606.6" y1="229.1" x2="606.6" y2="333.5" stroke="#262626" stroke-width="1.2" stroke-dasharray="2.7 3.0" stroke-dashoffset="1"/>
<line x1="481.7" y1="297.5" x2="655.7" y2="297.5" stroke="#505050" stroke-width="1.6"/>
<path d="M487.3,297.61 C487.64,297.52 488.65,297.23 489.32,297.05 C489.99,296.87 490.67,296.7 491.34,296.53 C492.01,296.35 492.69,296.19 493.36,296.02 C494.04,295.86 494.71,295.7 495.38,295.55 C496.06,295.39 496.73,295.24 497.4,295.1 C498.08,294.95 498.75,294.81 499.42,294.67 C500.1,294.53 500.77,294.4 501.44,294.27 C502.12,294.14 502.79,294.02 503.46,293.9 C504.14,293.77 504.81,293.66 505.49,293.55 C506.16,293.43 506.83,293.32 507.51,293.22 C508.18,293.12 508.85,293.02 509.53,292.92 C510.2,292.82 510.87,292.73 511.55,292.64 C512.22,292.56 512.89,292.47 513.57,292.39 C514.24,292.31 514.91,292.24 515.59,292.17 C516.26,292.09 516.94,292.03 517.61,291.96 C518.28,291.9 518.96,291.84 519.63,291.78 C520.3,291.73 520.98,291.68 521.65,291.63 C522.32,291.58 523,291.54 523.67,291.5 C524.34,291.46 525.02,291.42 525.69,291.39 C526.36,291.36 527.04,291.33 527.71,291.3 C528.39,291.27 529.06,291.25 529.73,291.23 C530.41,291.21 531.08,291.19 531.75,291.17 C532.43,291.15 533.1,291.13 533.77,291.11 C534.45,291.1 535.12,291.08 535.79,291.07 C536.47,291.05 537.14,291.04 537.81,291.02 C538.49,291 539.16,290.99 539.84,290.97 C540.51,290.95 541.18,290.93 541.86,290.91 C542.53,290.89 543.2,290.87 543.88,290.84 C544.55,290.82 545.22,290.79 545.9,290.76 C546.57,290.73 547.24,290.7 547.92,290.66 C548.59,290.62 549.26,290.58 549.94,290.54 C550.61,290.49 551.29,290.44 551.96,290.39 C552.63,290.33 553.31,290.27 553.98,290.21 C554.65,290.14 555.33,290.07 556,290 C556.67,289.92 557.35,289.84 558.02,289.75 C558.69,289.65 559.37,289.56 560.04,289.45 C560.71,289.35 561.39,289.24 562.06,289.12 C562.74,289 563.41,288.88 564.08,288.75 C564.76,288.61 565.43,288.47 566.1,288.33 C566.78,288.18 567.45,288.02 568.12,287.86 C568.8,287.7 569.47,287.53 570.14,287.35 C570.82,287.17 571.49,286.98 572.16,286.79 C572.84,286.59 573.51,286.39 574.19,286.18 C574.86,285.97 575.53,285.75 576.21,285.52 C576.88,285.3 577.55,285.06 578.23,284.82 C578.9,284.57 579.57,284.32 580.25,284.06 C580.92,283.79 581.59,283.52 582.27,283.24 C582.94,282.96 583.61,282.67 584.29,282.37 C584.96,282.08 585.64,281.77 586.31,281.45 C586.98,281.13 587.66,280.81 588.33,280.47 C589,280.13 589.68,279.79 590.35,279.43 C591.02,279.08 591.7,278.71 592.37,278.34 C593.04,277.96 593.72,277.58 594.39,277.18 C595.06,276.79 595.74,276.38 596.41,275.96 C597.09,275.55 597.76,275.12 598.43,274.69 C599.11,274.25 599.78,273.8 600.45,273.34 C601.13,272.89 601.8,272.42 602.47,271.94 C603.15,271.46 603.82,270.97 604.49,270.46 C605.17,269.96 605.84,269.45 606.51,268.93 C607.19,268.4 607.86,267.87 608.54,267.32 C609.21,266.77 609.88,266.21 610.56,265.64 C611.23,265.07 611.9,264.49 612.58,263.9 C613.25,263.31 613.92,262.7 614.6,262.08 C615.27,261.47 615.94,260.84 616.62,260.19 C617.29,259.55 617.96,258.9 618.64,258.23 C619.31,257.57 619.99,256.89 620.66,256.2 C621.33,255.5 622.01,254.8 622.68,254.08 C623.35,253.37 624.36,252.26 624.7,251.9" fill="none" stroke="#1B9DBE" stroke-width="2" stroke-linecap="round" clip-path="url(#c6)"/>
<line x1="481.7" y1="229.1" x2="481.7" y2="333.5" stroke="#7e7e7e" stroke-width="1.8"/>
<line x1="480.8" y1="333.5" x2="655.7" y2="333.5" stroke="#666" stroke-width="1.8"/>
<line x1="478.7" y1="297.5" x2="481.7" y2="297.5" stroke="#555" stroke-width="1"/>
<text x="476.8" y="297.5" transform="rotate(-90 476.8 297.5)" text-anchor="middle" class="tk">1.0</text>
<line x1="478.7" y1="280.4" x2="481.7" y2="280.4" stroke="#555" stroke-width="1"/>
<text x="476.8" y="280.4" transform="rotate(-90 476.8 280.4)" text-anchor="middle" class="tk">1.2</text>
<line x1="478.7" y1="263.3" x2="481.7" y2="263.3" stroke="#555" stroke-width="1"/>
<text x="476.8" y="263.3" transform="rotate(-90 476.8 263.3)" text-anchor="middle" class="tk">1.4</text>
<line x1="478.7" y1="246.2" x2="481.7" y2="246.2" stroke="#555" stroke-width="1"/>
<text x="476.8" y="246.2" transform="rotate(-90 476.8 246.2)" text-anchor="middle" class="tk">1.6</text>
<line x1="478.7" y1="229.1" x2="481.7" y2="229.1" stroke="#555" stroke-width="1"/>
<text x="476.8" y="229.1" transform="rotate(-90 476.8 229.1)" text-anchor="middle" class="tk">1.8</text>
<line x1="487.5" y1="333.5" x2="487.5" y2="335.3" stroke="#555" stroke-width="1"/>
<text x="487.5" y="341.7" text-anchor="middle" class="tk">0</text>
<line x1="510" y1="333.5" x2="510" y2="335.3" stroke="#555" stroke-width="1"/>
<text x="510" y="341.7" text-anchor="middle" class="tk">1</text>
<line x1="532.5" y1="333.5" x2="532.5" y2="335.3" stroke="#555" stroke-width="1"/>
<text x="532.5" y="341.7" text-anchor="middle" class="tk">2</text>
<line x1="555" y1="333.5" x2="555" y2="335.3" stroke="#555" stroke-width="1"/>
<text x="555" y="341.7" text-anchor="middle" class="tk">3</text>
<line x1="577.5" y1="333.5" x2="577.5" y2="335.3" stroke="#555" stroke-width="1"/>
<text x="577.5" y="341.7" text-anchor="middle" class="tk">4</text>
<line x1="600" y1="333.5" x2="600" y2="335.3" stroke="#555" stroke-width="1"/>
<text x="600" y="341.7" text-anchor="middle" class="tk">5</text>
<line x1="622.5" y1="333.5" x2="622.5" y2="335.3" stroke="#555" stroke-width="1"/>
<text x="622.5" y="341.7" text-anchor="middle" class="tk">6</text>
<line x1="645" y1="333.5" x2="645" y2="335.3" stroke="#555" stroke-width="1"/>
<text x="645" y="341.7" text-anchor="middle" class="tk">7</text>
<line x1="655.7" y1="306.1" x2="655.7" y2="333.5" stroke="#8c8c8c" stroke-width="1.1"/>
<line x1="655.7" y1="306.1" x2="657.7" y2="306.1" stroke="#8c8c8c" stroke-width="1"/>
<text x="660.7" y="308.8" class="tk">40</text>
<line x1="655.7" y1="319.4" x2="657.7" y2="319.4" stroke="#8c8c8c" stroke-width="1"/>
<text x="660.7" y="322.1" class="tk">20</text>
<line x1="655.7" y1="332.1" x2="657.7" y2="332.1" stroke="#8c8c8c" stroke-width="1"/>
<text x="660.7" y="334.8" class="tk">0</text>
<text x="568.7" y="350.9" text-anchor="middle" class="xl">CEHWI (°C)</text>
<text x="10.6" y="387.6" class="hd" textLength="41" lengthAdjust="spacing">c Japan</text>
<path d="M0.5,391.5 H684.5 V539.5" fill="none" stroke="#808080" stroke-width="1"/>
<path d="M0.5,391.5 V539.5" fill="none" stroke="#808080" stroke-width="1"/>
<line x1="0" y1="539.5" x2="685" y2="539.5" stroke="#808080" stroke-width="1"/>
<clipPath id="c7"><rect x="30.5" y="405.6" width="174.4" height="104.9"/></clipPath>
<path d="M36.3,474.29 C36.64,474.02 37.68,473.15 38.37,472.7 C39.06,472.24 39.75,471.86 40.44,471.54 C41.13,471.22 41.82,470.97 42.51,470.76 C43.2,470.55 43.89,470.41 44.58,470.29 C45.27,470.18 45.96,470.12 46.65,470.08 C47.34,470.05 48.03,470.05 48.72,470.07 C49.41,470.09 50.1,470.14 50.79,470.2 C51.48,470.25 52.17,470.33 52.86,470.4 C53.55,470.47 54.24,470.56 54.93,470.62 C55.62,470.69 56.31,470.76 57,470.81 C57.69,470.85 58.38,470.89 59.07,470.9 C59.76,470.9 60.44,470.89 61.13,470.83 C61.82,470.77 62.51,470.68 63.2,470.54 C63.89,470.4 64.58,470.23 65.27,469.98 C65.96,469.73 66.65,469.44 67.34,469.05 C68.03,468.67 68.72,468.22 69.41,467.65 C70.1,467.08 70.79,466.43 71.48,465.65 C72.17,464.86 72.86,463.97 73.55,462.93 C74.24,461.88 74.93,460.71 75.62,459.36 C76.31,458.02 77,456.6 77.69,454.84 C78.38,453.08 79.07,451.36 79.76,448.8 C80.45,446.24 81.14,443.46 81.83,439.5 C82.52,435.54 83.56,427.44 83.9,425.03 L83.9,461.49 C83.56,462.02 82.52,463.67 81.83,464.67 C81.14,465.67 80.45,466.61 79.76,467.5 C79.07,468.39 78.38,469.22 77.69,470 C77,470.78 76.31,471.51 75.62,472.18 C74.93,472.86 74.24,473.48 73.55,474.06 C72.86,474.64 72.17,475.17 71.48,475.66 C70.79,476.14 70.1,476.58 69.41,476.98 C68.72,477.38 68.03,477.73 67.34,478.05 C66.65,478.37 65.96,478.64 65.27,478.88 C64.58,479.12 63.89,479.33 63.2,479.49 C62.51,479.66 61.82,479.8 61.13,479.9 C60.44,480 59.76,480.07 59.07,480.11 C58.38,480.16 57.69,480.17 57,480.15 C56.31,480.14 55.62,480.1 54.93,480.04 C54.24,479.97 53.55,479.88 52.86,479.78 C52.17,479.67 51.48,479.54 50.79,479.39 C50.1,479.24 49.41,479.07 48.72,478.89 C48.03,478.71 47.34,478.51 46.65,478.3 C45.96,478.09 45.27,477.87 44.58,477.63 C43.89,477.4 43.2,477.15 42.51,476.9 C41.82,476.65 41.13,476.39 40.44,476.12 C39.75,475.86 39.06,475.59 38.37,475.31 C37.68,475.04 36.64,474.63 36.3,474.49 Z" fill="#d9d9d9" clip-path="url(#c7)"/>
<rect x="36.45" y="489.6" width="2.5" height="20.9" fill="#f0f0f0" stroke="#111" stroke-width="0.8"/>
<rect x="38.95" y="483" width="2.5" height="27.5" fill="#f0f0f0" stroke="#111" stroke-width="0.8"/>
<rect x="41.44" y="489" width="2.5" height="21.5" fill="#f0f0f0" stroke="#111" stroke-width="0.8"/>
<rect x="43.94" y="487.4" width="2.5" height="23.1" fill="#f0f0f0" stroke="#111" stroke-width="0.8"/>
<rect x="46.43" y="491.6" width="2.5" height="18.9" fill="#f0f0f0" stroke="#111" stroke-width="0.8"/>
<rect x="48.93" y="492.5" width="2.5" height="18" fill="#f0f0f0" stroke="#111" stroke-width="0.8"/>
<rect x="51.42" y="499.5" width="2.5" height="11" fill="#f0f0f0" stroke="#111" stroke-width="0.8"/>
<rect x="53.92" y="500.5" width="2.5" height="10" fill="#f0f0f0" stroke="#111" stroke-width="0.8"/>
<rect x="56.41" y="495.7" width="2.5" height="14.8" fill="#f0f0f0" stroke="#111" stroke-width="0.8"/>
<rect x="58.91" y="503.8" width="2.5" height="6.7" fill="#f0f0f0" stroke="#111" stroke-width="0.8"/>
<rect x="61.4" y="501.8" width="2.5" height="8.7" fill="#f0f0f0" stroke="#111" stroke-width="0.8"/>
<rect x="63.9" y="505.3" width="2.5" height="5.2" fill="#f0f0f0" stroke="#111" stroke-width="0.8"/>
<rect x="66.39" y="503.1" width="2.5" height="7.4" fill="#f0f0f0" stroke="#111" stroke-width="0.8"/>
<rect x="68.89" y="508.8" width="2.5" height="1.7" fill="#f0f0f0" stroke="#111" stroke-width="0.8"/>
<rect x="71.38" y="508" width="2.5" height="2.5" fill="#f0f0f0" stroke="#111" stroke-width="0.8"/>
<rect x="73.88" y="507.3" width="2.5" height="3.2" fill="#f0f0f0" stroke="#111" stroke-width="0.8"/>
<rect x="76.37" y="507.3" width="2.5" height="3.2" fill="#f0f0f0" stroke="#111" stroke-width="0.8"/>
<rect x="78.87" y="508.6" width="2.5" height="1.9" fill="#f0f0f0" stroke="#111" stroke-width="0.8"/>
<rect x="81.36" y="508.8" width="2.5" height="1.7" fill="#f0f0f0" stroke="#111" stroke-width="0.8"/>
<line x1="42.1" y1="405.6" x2="42.1" y2="510.5" stroke="#6e6e6e" stroke-width="1.1" stroke-dasharray="2.7 3.0" stroke-dashoffset="1"/>
<line x1="57.6" y1="405.6" x2="57.6" y2="510.5" stroke="#6e6e6e" stroke-width="1.1" stroke-dasharray="2.7 3.0" stroke-dashoffset="1"/>
<line x1="67.2" y1="405.6" x2="67.2" y2="510.5" stroke="#1a1a1a" stroke-width="1.1" stroke-dasharray="2.7 3.0" stroke-dashoffset="1"/>
<line x1="30.5" y1="474.5" x2="204.9" y2="474.5" stroke="#333" stroke-width="1.25"/>
<path d="M36.3,474.4 C36.65,474.23 37.69,473.66 38.38,473.4 C39.07,473.14 39.76,472.96 40.46,472.83 C41.15,472.71 41.84,472.65 42.53,472.63 C43.23,472.61 43.92,472.65 44.61,472.72 C45.31,472.78 46,472.9 46.69,473.03 C47.38,473.17 48.08,473.34 48.77,473.52 C49.46,473.7 50.16,473.9 50.85,474.1 C51.54,474.31 52.23,474.52 52.93,474.73 C53.62,474.93 54.31,475.14 55,475.32 C55.7,475.5 56.39,475.67 57.08,475.81 C57.78,475.95 58.47,476.07 59.16,476.15 C59.85,476.22 60.55,476.27 61.24,476.26 C61.93,476.25 62.62,476.2 63.32,476.08 C64.01,475.96 64.7,475.79 65.4,475.55 C66.09,475.31 66.78,475.01 67.47,474.64 C68.17,474.27 68.86,473.84 69.55,473.33 C70.24,472.82 70.94,472.24 71.63,471.59 C72.32,470.93 73.02,470.2 73.71,469.39 C74.4,468.57 75.09,467.68 75.79,466.71 C76.48,465.73 77.17,464.72 77.87,463.51 C78.56,462.31 79.25,461.12 79.94,459.48 C80.64,457.83 81.33,456.17 82.02,453.64 C82.71,451.12 83.75,445.87 84.1,444.31" fill="none" stroke="#9A66AE" stroke-width="2" stroke-linecap="round" clip-path="url(#c7)"/>
<line x1="30.5" y1="405.6" x2="30.5" y2="510.5" stroke="#555" stroke-width="1.4"/>
<line x1="29.8" y1="510.5" x2="204.9" y2="510.5" stroke="#363636" stroke-width="1.25"/>
<line x1="27.5" y1="474.5" x2="30.5" y2="474.5" stroke="#555" stroke-width="1"/>
<text x="26" y="474.5" transform="rotate(-90 26 474.5)" text-anchor="middle" class="tk">1.0</text>
<line x1="27.5" y1="457.27" x2="30.5" y2="457.27" stroke="#555" stroke-width="1"/>
<text x="26" y="457.27" transform="rotate(-90 26 457.27)" text-anchor="middle" class="tk">1.2</text>
<line x1="27.5" y1="440.05" x2="30.5" y2="440.05" stroke="#555" stroke-width="1"/>
<text x="26" y="440.05" transform="rotate(-90 26 440.05)" text-anchor="middle" class="tk">1.4</text>
<line x1="27.5" y1="422.82" x2="30.5" y2="422.82" stroke="#555" stroke-width="1"/>
<text x="26" y="422.82" transform="rotate(-90 26 422.82)" text-anchor="middle" class="tk">1.6</text>
<line x1="27.5" y1="405.6" x2="30.5" y2="405.6" stroke="#555" stroke-width="1"/>
<text x="26" y="405.6" transform="rotate(-90 26 405.6)" text-anchor="middle" class="tk">1.8</text>
<line x1="36.5" y1="510.5" x2="36.5" y2="512.3" stroke="#555" stroke-width="1"/>
<text x="36.5" y="518.8" text-anchor="middle" class="tk">0</text>
<line x1="58.97" y1="510.5" x2="58.97" y2="512.3" stroke="#555" stroke-width="1"/>
<text x="58.97" y="518.8" text-anchor="middle" class="tk">1</text>
<line x1="81.44" y1="510.5" x2="81.44" y2="512.3" stroke="#555" stroke-width="1"/>
<text x="81.44" y="518.8" text-anchor="middle" class="tk">2</text>
<line x1="103.91" y1="510.5" x2="103.91" y2="512.3" stroke="#555" stroke-width="1"/>
<text x="103.91" y="518.8" text-anchor="middle" class="tk">3</text>
<line x1="126.38" y1="510.5" x2="126.38" y2="512.3" stroke="#555" stroke-width="1"/>
<text x="126.38" y="518.8" text-anchor="middle" class="tk">4</text>
<line x1="148.85" y1="510.5" x2="148.85" y2="512.3" stroke="#555" stroke-width="1"/>
<text x="148.85" y="518.8" text-anchor="middle" class="tk">5</text>
<line x1="171.32" y1="510.5" x2="171.32" y2="512.3" stroke="#555" stroke-width="1"/>
<text x="171.32" y="518.8" text-anchor="middle" class="tk">6</text>
<line x1="193.79" y1="510.5" x2="193.79" y2="512.3" stroke="#555" stroke-width="1"/>
<text x="193.79" y="518.8" text-anchor="middle" class="tk">7</text>
<line x1="204.9" y1="482.9" x2="204.9" y2="510.5" stroke="#8c8c8c" stroke-width="1.1"/>
<line x1="204.9" y1="482.9" x2="206.9" y2="482.9" stroke="#8c8c8c" stroke-width="1"/>
<text x="209.5" y="485.6" class="tk">100</text>
<line x1="204.9" y1="495.8" x2="206.9" y2="495.8" stroke="#8c8c8c" stroke-width="1"/>
<text x="209.5" y="498.5" class="tk">50</text>
<line x1="204.9" y1="508.4" x2="206.9" y2="508.4" stroke="#8c8c8c" stroke-width="1"/>
<text x="209.5" y="511.1" class="tk">0</text>
<text x="117.5" y="527.5" text-anchor="middle" class="xl">CEHWI (°C)</text>
<text x="16" y="439.4" transform="rotate(-90 16 439.4)" text-anchor="middle" class="rr">Relative risk</text>
<text x="227.2" y="494.5" transform="rotate(-90 227.2 494.5)" text-anchor="middle" class="fq">Frequency</text>
<clipPath id="c8"><rect x="255.5" y="405.3" width="175.1" height="105.2"/></clipPath>
<path d="M261.8,474.11 C262.13,473.87 263.13,473.17 263.8,472.66 C264.47,472.16 265.13,471.61 265.8,471.09 C266.47,470.56 267.13,470.02 267.8,469.53 C268.47,469.05 269.13,468.56 269.8,468.16 C270.47,467.76 271.13,467.41 271.8,467.13 C272.47,466.86 273.13,466.65 273.8,466.51 C274.47,466.37 275.13,466.29 275.8,466.27 C276.47,466.25 277.13,466.3 277.8,466.39 C278.47,466.49 279.13,466.64 279.8,466.84 C280.47,467.04 281.13,467.3 281.8,467.57 C282.47,467.85 283.13,468.17 283.8,468.47 C284.47,468.78 285.13,469.11 285.8,469.39 C286.47,469.68 287.13,469.97 287.8,470.19 C288.47,470.41 289.13,470.6 289.8,470.73 C290.47,470.86 291.13,470.94 291.8,470.97 C292.47,471.01 293.13,471 293.8,470.95 C294.47,470.9 295.13,470.8 295.8,470.67 C296.47,470.54 297.13,470.37 297.8,470.17 C298.47,469.96 299.13,469.73 299.8,469.45 C300.47,469.17 301.13,468.86 301.8,468.49 C302.47,468.13 303.13,467.73 303.8,467.27 C304.47,466.81 305.13,466.31 305.8,465.75 C306.47,465.19 307.13,464.58 307.8,463.91 C308.47,463.24 309.13,462.5 309.8,461.72 C310.47,460.93 311.13,460.08 311.8,459.19 C312.47,458.3 313.13,457.36 313.8,456.38 C314.47,455.4 315.13,454.36 315.8,453.3 C316.47,452.24 317.13,451.14 317.8,450.01 C318.47,448.88 319.13,447.73 319.8,446.52 C320.47,445.31 321.13,444.07 321.8,442.76 C322.47,441.45 323.13,440.1 323.8,438.67 C324.47,437.23 325.13,435.75 325.8,434.17 C326.47,432.59 327.13,430.94 327.8,429.19 C328.47,427.44 329.13,425.6 329.8,423.66 C330.47,421.71 331.47,418.53 331.8,417.5 L331.8,471.8 C331.47,471.77 330.47,471.68 329.8,471.63 C329.13,471.58 328.47,471.54 327.8,471.51 C327.13,471.47 326.47,471.44 325.8,471.42 C325.13,471.4 324.47,471.39 323.8,471.39 C323.13,471.38 322.47,471.39 321.8,471.4 C321.13,471.41 320.47,471.42 319.8,471.45 C319.13,471.47 318.47,471.5 317.8,471.54 C317.13,471.58 316.47,471.63 315.8,471.68 C315.13,471.73 314.47,471.79 313.8,471.86 C313.13,471.93 312.47,472 311.8,472.08 C311.13,472.16 310.47,472.25 309.8,472.35 C309.13,472.44 308.47,472.55 307.8,472.65 C307.13,472.76 306.47,472.88 305.8,473 C305.13,473.13 304.47,473.25 303.8,473.39 C303.13,473.53 302.47,473.67 301.8,473.82 C301.13,473.97 300.47,474.13 299.8,474.29 C299.13,474.45 298.47,474.62 297.8,474.8 C297.13,474.98 296.47,475.16 295.8,475.35 C295.13,475.54 294.47,475.74 293.8,475.95 C293.13,476.15 292.47,476.37 291.8,476.59 C291.13,476.81 290.47,477.05 289.8,477.29 C289.13,477.53 288.47,477.79 287.8,478.05 C287.13,478.3 286.47,478.58 285.8,478.84 C285.13,479.1 284.47,479.36 283.8,479.6 C283.13,479.83 282.47,480.06 281.8,480.24 C281.13,480.43 280.47,480.59 279.8,480.71 C279.13,480.82 278.47,480.9 277.8,480.93 C277.13,480.96 276.47,480.95 275.8,480.89 C275.13,480.84 274.47,480.74 273.8,480.6 C273.13,480.46 272.47,480.28 271.8,480.06 C271.13,479.83 270.47,479.56 269.8,479.25 C269.13,478.95 268.47,478.59 267.8,478.22 C267.13,477.84 266.47,477.43 265.8,477.01 C265.13,476.59 264.47,476.14 263.8,475.68 C263.13,475.23 262.13,474.52 261.8,474.29 Z" fill="#d9d9d9" clip-path="url(#c8)"/>
<rect x="262.4" y="508.3" width="3.69" height="2.2" fill="#f0f0f0" stroke="#111" stroke-width="0.8"/>
<rect x="266.09" y="508.3" width="3.69" height="2.2" fill="#f0f0f0" stroke="#111" stroke-width="0.8"/>
<rect x="269.78" y="506.3" width="3.69" height="4.2" fill="#f0f0f0" stroke="#111" stroke-width="0.8"/>
<rect x="273.47" y="495.2" width="3.69" height="15.3" fill="#f0f0f0" stroke="#111" stroke-width="0.8"/>
<rect x="277.16" y="493.4" width="3.69" height="17.1" fill="#f0f0f0" stroke="#111" stroke-width="0.8"/>
<rect x="280.85" y="484.9" width="3.69" height="25.6" fill="#f0f0f0" stroke="#111" stroke-width="0.8"/>
<rect x="284.54" y="482.9" width="3.69" height="27.6" fill="#f0f0f0" stroke="#111" stroke-width="0.8"/>
<rect x="288.23" y="485.3" width="3.69" height="25.2" fill="#f0f0f0" stroke="#111" stroke-width="0.8"/>
<rect x="291.92" y="486.4" width="3.69" height="24.1" fill="#f0f0f0" stroke="#111" stroke-width="0.8"/>
<rect x="295.61" y="486.8" width="3.69" height="23.7" fill="#f0f0f0" stroke="#111" stroke-width="0.8"/>
<rect x="299.3" y="493.4" width="3.69" height="17.1" fill="#f0f0f0" stroke="#111" stroke-width="0.8"/>
<rect x="302.99" y="495.4" width="3.69" height="15.1" fill="#f0f0f0" stroke="#111" stroke-width="0.8"/>
<rect x="306.68" y="499.6" width="3.69" height="10.9" fill="#f0f0f0" stroke="#111" stroke-width="0.8"/>
<rect x="310.37" y="503.1" width="3.69" height="7.4" fill="#f0f0f0" stroke="#111" stroke-width="0.8"/>
<rect x="314.06" y="504.3" width="3.69" height="6.2" fill="#f0f0f0" stroke="#111" stroke-width="0.8"/>
<rect x="317.75" y="505.7" width="3.69" height="4.8" fill="#f0f0f0" stroke="#111" stroke-width="0.8"/>
<rect x="321.44" y="506.6" width="3.69" height="3.9" fill="#f0f0f0" stroke="#111" stroke-width="0.8"/>
<rect x="325.13" y="507.8" width="3.69" height="2.7" fill="#f0f0f0" stroke="#111" stroke-width="0.8"/>
<rect x="328.82" y="507.8" width="3.69" height="2.7" fill="#f0f0f0" stroke="#111" stroke-width="0.8"/>
<line x1="283.6" y1="405.3" x2="283.6" y2="510.5" stroke="#6e6e6e" stroke-width="1.1" stroke-dasharray="2.7 3.0" stroke-dashoffset="1"/>
<line x1="299.3" y1="405.3" x2="299.3" y2="510.5" stroke="#6e6e6e" stroke-width="1.1" stroke-dasharray="2.7 3.0" stroke-dashoffset="1"/>
<line x1="308.7" y1="405.3" x2="308.7" y2="510.5" stroke="#1a1a1a" stroke-width="1.1" stroke-dasharray="2.7 3.0" stroke-dashoffset="1"/>
<line x1="255.5" y1="474.3" x2="430.6" y2="474.3" stroke="#333" stroke-width="1.25"/>
<path d="M261.8,474.2 C262.14,474.18 263.14,474.13 263.81,474.11 C264.49,474.1 265.16,474.09 265.83,474.09 C266.5,474.1 267.17,474.11 267.84,474.12 C268.51,474.14 269.19,474.17 269.86,474.19 C270.53,474.22 271.2,474.26 271.87,474.29 C272.54,474.33 273.21,474.37 273.89,474.41 C274.56,474.44 275.23,474.49 275.9,474.53 C276.57,474.57 277.24,474.61 277.91,474.64 C278.59,474.68 279.26,474.71 279.93,474.74 C280.6,474.77 281.27,474.8 281.94,474.82 C282.61,474.84 283.29,474.85 283.96,474.85 C284.63,474.86 285.3,474.86 285.97,474.84 C286.64,474.83 287.31,474.81 287.99,474.77 C288.66,474.74 289.33,474.69 290,474.63 C290.67,474.57 291.34,474.5 292.01,474.41 C292.69,474.32 293.36,474.22 294.03,474.09 C294.7,473.97 295.37,473.83 296.04,473.68 C296.71,473.52 297.39,473.34 298.06,473.15 C298.73,472.95 299.4,472.73 300.07,472.49 C300.74,472.25 301.41,471.99 302.09,471.7 C302.76,471.42 303.43,471.11 304.1,470.79 C304.77,470.46 305.44,470.11 306.11,469.75 C306.79,469.38 307.46,469 308.13,468.59 C308.8,468.19 309.47,467.77 310.14,467.33 C310.81,466.89 311.49,466.44 312.16,465.96 C312.83,465.49 313.5,465.01 314.17,464.5 C314.84,464 315.51,463.48 316.19,462.95 C316.86,462.42 317.53,461.88 318.2,461.32 C318.87,460.76 319.54,460.19 320.21,459.61 C320.89,459.03 321.56,458.43 322.23,457.82 C322.9,457.21 323.57,456.59 324.24,455.96 C324.91,455.32 325.59,454.67 326.26,454.01 C326.93,453.35 327.6,452.68 328.27,451.99 C328.94,451.3 329.61,450.6 330.29,449.89 C330.96,449.17 331.96,448.07 332.3,447.71" fill="none" stroke="#9A66AE" stroke-width="2" stroke-linecap="round" clip-path="url(#c8)"/>
<line x1="255.5" y1="405.3" x2="255.5" y2="510.5" stroke="#555" stroke-width="1.4"/>
<line x1="254.8" y1="510.5" x2="430.6" y2="510.5" stroke="#363636" stroke-width="1.25"/>
<line x1="252.5" y1="474.3" x2="255.5" y2="474.3" stroke="#555" stroke-width="1"/>
<text x="250.6" y="474.3" transform="rotate(-90 250.6 474.3)" text-anchor="middle" class="tk">1.0</text>
<line x1="252.5" y1="457.05" x2="255.5" y2="457.05" stroke="#555" stroke-width="1"/>
<text x="250.6" y="457.05" transform="rotate(-90 250.6 457.05)" text-anchor="middle" class="tk">1.2</text>
<line x1="252.5" y1="439.8" x2="255.5" y2="439.8" stroke="#555" stroke-width="1"/>
<text x="250.6" y="439.8" transform="rotate(-90 250.6 439.8)" text-anchor="middle" class="tk">1.4</text>
<line x1="252.5" y1="422.55" x2="255.5" y2="422.55" stroke="#555" stroke-width="1"/>
<text x="250.6" y="422.55" transform="rotate(-90 250.6 422.55)" text-anchor="middle" class="tk">1.6</text>
<line x1="252.5" y1="405.3" x2="255.5" y2="405.3" stroke="#555" stroke-width="1"/>
<text x="250.6" y="405.3" transform="rotate(-90 250.6 405.3)" text-anchor="middle" class="tk">1.8</text>
<line x1="262.2" y1="510.5" x2="262.2" y2="512.3" stroke="#555" stroke-width="1"/>
<text x="262.2" y="518.8" text-anchor="middle" class="tk">0</text>
<line x1="284.7" y1="510.5" x2="284.7" y2="512.3" stroke="#555" stroke-width="1"/>
<text x="284.7" y="518.8" text-anchor="middle" class="tk">1</text>
<line x1="307.2" y1="510.5" x2="307.2" y2="512.3" stroke="#555" stroke-width="1"/>
<text x="307.2" y="518.8" text-anchor="middle" class="tk">2</text>
<line x1="329.7" y1="510.5" x2="329.7" y2="512.3" stroke="#555" stroke-width="1"/>
<text x="329.7" y="518.8" text-anchor="middle" class="tk">3</text>
<line x1="352.2" y1="510.5" x2="352.2" y2="512.3" stroke="#555" stroke-width="1"/>
<text x="352.2" y="518.8" text-anchor="middle" class="tk">4</text>
<line x1="374.7" y1="510.5" x2="374.7" y2="512.3" stroke="#555" stroke-width="1"/>
<text x="374.7" y="518.8" text-anchor="middle" class="tk">5</text>
<line x1="397.2" y1="510.5" x2="397.2" y2="512.3" stroke="#555" stroke-width="1"/>
<text x="397.2" y="518.8" text-anchor="middle" class="tk">6</text>
<line x1="419.7" y1="510.5" x2="419.7" y2="512.3" stroke="#555" stroke-width="1"/>
<text x="419.7" y="518.8" text-anchor="middle" class="tk">7</text>
<line x1="430.6" y1="483.3" x2="430.6" y2="510.5" stroke="#8c8c8c" stroke-width="1.1"/>
<line x1="430.6" y1="483.3" x2="432.6" y2="483.3" stroke="#8c8c8c" stroke-width="1"/>
<text x="434.9" y="486" class="tk">100</text>
<line x1="430.6" y1="495.8" x2="432.6" y2="495.8" stroke="#8c8c8c" stroke-width="1"/>
<text x="434.9" y="498.5" class="tk">50</text>
<line x1="430.6" y1="508.3" x2="432.6" y2="508.3" stroke="#8c8c8c" stroke-width="1"/>
<text x="434.9" y="511" class="tk">0</text>
<text x="343.4" y="527.4" text-anchor="middle" class="xl">CEHWI (°C)</text>
<clipPath id="c9"><rect x="481.1" y="405.6" width="175.4" height="104.9"/></clipPath>
<path d="M487.5,474.21 C487.84,474.06 488.85,473.61 489.52,473.31 C490.2,473 490.87,472.7 491.55,472.39 C492.22,472.08 492.9,471.77 493.57,471.46 C494.25,471.15 494.92,470.84 495.6,470.52 C496.27,470.21 496.95,469.9 497.62,469.58 C498.3,469.27 498.97,468.95 499.64,468.64 C500.32,468.33 500.99,468.01 501.67,467.7 C502.34,467.39 503.02,467.08 503.69,466.77 C504.37,466.46 505.04,466.16 505.72,465.85 C506.39,465.55 507.07,465.24 507.74,464.94 C508.42,464.65 509.09,464.35 509.77,464.06 C510.44,463.76 511.11,463.47 511.79,463.19 C512.46,462.9 513.14,462.62 513.81,462.35 C514.49,462.07 515.16,461.8 515.84,461.53 C516.51,461.27 517.19,461.01 517.86,460.75 C518.54,460.5 519.21,460.25 519.89,460.01 C520.56,459.77 521.24,459.53 521.91,459.31 C522.59,459.08 523.26,458.86 523.93,458.65 C524.61,458.44 525.28,458.23 525.96,458.03 C526.63,457.84 527.31,457.65 527.98,457.47 C528.66,457.3 529.33,457.13 530.01,456.97 C530.68,456.81 531.36,456.66 532.03,456.52 C532.71,456.38 533.38,456.25 534.06,456.13 C534.73,456.01 535.4,455.91 536.08,455.81 C536.75,455.71 537.43,455.62 538.1,455.55 C538.78,455.47 539.45,455.4 540.13,455.35 C540.8,455.29 541.48,455.24 542.15,455.21 C542.83,455.17 543.5,455.14 544.18,455.13 C544.85,455.11 545.53,455.1 546.2,455.1 C546.87,455.11 547.55,455.12 548.22,455.14 C548.9,455.16 549.57,455.2 550.25,455.23 C550.92,455.26 551.6,455.3 552.27,455.33 C552.95,455.36 553.62,455.39 554.3,455.39 C554.97,455.39 555.65,455.38 556.32,455.34 C557,455.29 557.67,455.22 558.34,455.11 C559.02,454.99 559.69,454.85 560.37,454.65 C561.04,454.44 561.72,454.2 562.39,453.88 C563.07,453.57 563.74,453.2 564.42,452.77 C565.09,452.34 565.77,451.85 566.44,451.32 C567.12,450.79 567.79,450.2 568.47,449.58 C569.14,448.96 569.81,448.3 570.49,447.61 C571.16,446.92 571.84,446.19 572.51,445.44 C573.19,444.7 573.86,443.92 574.54,443.14 C575.21,442.36 575.89,441.56 576.56,440.75 C577.24,439.94 577.91,439.13 578.59,438.3 C579.26,437.46 579.94,436.61 580.61,435.71 C581.29,434.82 581.96,433.9 582.63,432.93 C583.31,431.95 583.98,430.93 584.66,429.85 C585.33,428.76 586.01,427.63 586.68,426.4 C587.36,425.17 588.03,423.93 588.71,422.46 C589.38,420.99 590.06,419.46 590.73,417.59 C591.41,415.71 592.08,413.55 592.76,411.22 C593.43,408.89 594.1,406.2 594.78,403.62 C595.45,401.03 596.13,398.16 596.8,395.72 C597.48,393.27 598.15,390.77 598.83,388.95 C599.5,387.12 600.18,385.48 600.85,384.76 C601.53,384.04 602.2,383.75 602.88,384.63 C603.55,385.5 604.56,389.1 604.9,390 L604.9,451.91 C604.56,451.59 603.55,450.55 602.88,450.01 C602.2,449.47 601.53,449.03 600.85,448.67 C600.18,448.3 599.5,448.03 598.83,447.82 C598.15,447.62 597.48,447.49 596.8,447.43 C596.13,447.37 595.45,447.39 594.78,447.45 C594.1,447.52 593.43,447.65 592.76,447.83 C592.08,448.01 591.41,448.24 590.73,448.52 C590.06,448.79 589.38,449.12 588.71,449.47 C588.03,449.82 587.36,450.22 586.68,450.64 C586.01,451.05 585.33,451.51 584.66,451.97 C583.98,452.44 583.31,452.93 582.63,453.43 C581.96,453.92 581.29,454.44 580.61,454.95 C579.94,455.47 579.26,455.99 578.59,456.5 C577.91,457.02 577.24,457.53 576.56,458.03 C575.89,458.53 575.21,459.02 574.54,459.5 C573.86,459.98 573.19,460.44 572.51,460.9 C571.84,461.35 571.16,461.8 570.49,462.23 C569.81,462.66 569.14,463.08 568.47,463.5 C567.79,463.91 567.12,464.32 566.44,464.72 C565.77,465.13 565.09,465.52 564.42,465.92 C563.74,466.32 563.07,466.71 562.39,467.12 C561.72,467.52 561.04,467.92 560.37,468.33 C559.69,468.74 559.02,469.15 558.34,469.58 C557.67,470 557,470.43 556.32,470.88 C555.65,471.33 554.97,471.79 554.3,472.26 C553.62,472.73 552.95,473.21 552.27,473.69 C551.6,474.16 550.92,474.64 550.25,475.11 C549.57,475.57 548.9,476.04 548.22,476.48 C547.55,476.92 546.87,477.35 546.2,477.76 C545.53,478.17 544.85,478.56 544.18,478.93 C543.5,479.3 542.83,479.66 542.15,479.99 C541.48,480.32 540.8,480.64 540.13,480.94 C539.45,481.23 538.78,481.51 538.1,481.77 C537.43,482.02 536.75,482.26 536.08,482.48 C535.4,482.7 534.73,482.9 534.06,483.08 C533.38,483.26 532.71,483.42 532.03,483.56 C531.36,483.69 530.68,483.81 530.01,483.91 C529.33,484.02 528.66,484.1 527.98,484.16 C527.31,484.23 526.63,484.27 525.96,484.3 C525.28,484.33 524.61,484.35 523.93,484.35 C523.26,484.34 522.59,484.32 521.91,484.29 C521.24,484.26 520.56,484.21 519.89,484.15 C519.21,484.09 518.54,484.01 517.86,483.92 C517.19,483.83 516.51,483.73 515.84,483.62 C515.16,483.51 514.49,483.38 513.81,483.24 C513.14,483.11 512.46,482.96 511.79,482.8 C511.11,482.64 510.44,482.48 509.77,482.3 C509.09,482.12 508.42,481.94 507.74,481.74 C507.07,481.55 506.39,481.34 505.72,481.13 C505.04,480.92 504.37,480.71 503.69,480.48 C503.02,480.26 502.34,480.03 501.67,479.8 C500.99,479.56 500.32,479.32 499.64,479.08 C498.97,478.83 498.3,478.58 497.62,478.33 C496.95,478.08 496.27,477.82 495.6,477.56 C494.92,477.3 494.25,477.04 493.57,476.78 C492.9,476.52 492.22,476.25 491.55,475.99 C490.87,475.72 490.2,475.46 489.52,475.19 C488.85,474.93 487.84,474.53 487.5,474.4 Z" fill="#d9d9d9" clip-path="url(#c9)"/>
<rect x="487.6" y="508.7" width="6.17" height="1.8" fill="#f0f0f0" stroke="#111" stroke-width="0.8"/>
<rect x="493.77" y="508.7" width="6.17" height="1.8" fill="#f0f0f0" stroke="#111" stroke-width="0.8"/>
<rect x="499.94" y="508.7" width="6.17" height="1.8" fill="#f0f0f0" stroke="#111" stroke-width="0.8"/>
<rect x="506.11" y="508.7" width="6.17" height="1.8" fill="#f0f0f0" stroke="#111" stroke-width="0.8"/>
<rect x="512.28" y="508.7" width="6.17" height="1.8" fill="#f0f0f0" stroke="#111" stroke-width="0.8"/>
<rect x="518.45" y="508.7" width="6.17" height="1.8" fill="#f0f0f0" stroke="#111" stroke-width="0.8"/>
<rect x="524.62" y="507.5" width="6.17" height="3" fill="#f0f0f0" stroke="#111" stroke-width="0.8"/>
<rect x="530.79" y="505.4" width="6.17" height="5.1" fill="#f0f0f0" stroke="#111" stroke-width="0.8"/>
<rect x="536.96" y="491.3" width="6.17" height="19.2" fill="#f0f0f0" stroke="#111" stroke-width="0.8"/>
<rect x="543.13" y="483.2" width="6.17" height="27.3" fill="#f0f0f0" stroke="#111" stroke-width="0.8"/>
<rect x="549.3" y="485.4" width="6.17" height="25.1" fill="#f0f0f0" stroke="#111" stroke-width="0.8"/>
<rect x="555.47" y="483.7" width="6.17" height="26.8" fill="#f0f0f0" stroke="#111" stroke-width="0.8"/>
<rect x="561.64" y="488.5" width="6.17" height="22" fill="#f0f0f0" stroke="#111" stroke-width="0.8"/>
<rect x="567.81" y="496.4" width="6.17" height="14.1" fill="#f0f0f0" stroke="#111" stroke-width="0.8"/>
<rect x="573.98" y="495.5" width="6.17" height="15" fill="#f0f0f0" stroke="#111" stroke-width="0.8"/>
<rect x="580.15" y="501.4" width="6.17" height="9.1" fill="#f0f0f0" stroke="#111" stroke-width="0.8"/>
<rect x="586.32" y="502.7" width="6.17" height="7.8" fill="#f0f0f0" stroke="#111" stroke-width="0.8"/>
<rect x="592.49" y="505.2" width="6.17" height="5.3" fill="#f0f0f0" stroke="#111" stroke-width="0.8"/>
<rect x="598.66" y="506.5" width="6.17" height="4" fill="#f0f0f0" stroke="#111" stroke-width="0.8"/>
<line x1="547.5" y1="405.6" x2="547.5" y2="510.5" stroke="#6e6e6e" stroke-width="1.1" stroke-dasharray="2.7 3.0" stroke-dashoffset="1"/>
<line x1="570.4" y1="405.6" x2="570.4" y2="510.5" stroke="#6e6e6e" stroke-width="1.1" stroke-dasharray="2.7 3.0" stroke-dashoffset="1"/>
<line x1="582.3" y1="405.6" x2="582.3" y2="510.5" stroke="#1a1a1a" stroke-width="1.1" stroke-dasharray="2.7 3.0" stroke-dashoffset="1"/>
<line x1="481.1" y1="474.2" x2="656.5" y2="474.2" stroke="#333" stroke-width="1.25"/>
<path d="M487.5,474.3 C487.84,474.3 488.85,474.29 489.52,474.28 C490.2,474.27 490.87,474.27 491.55,474.26 C492.22,474.25 492.9,474.24 493.57,474.24 C494.25,474.23 494.92,474.22 495.6,474.21 C496.27,474.2 496.95,474.19 497.62,474.18 C498.3,474.17 498.97,474.16 499.64,474.14 C500.32,474.13 500.99,474.11 501.67,474.1 C502.34,474.08 503.02,474.06 503.69,474.04 C504.37,474.02 505.04,474 505.72,473.98 C506.39,473.95 507.07,473.93 507.74,473.9 C508.42,473.87 509.09,473.84 509.77,473.81 C510.44,473.77 511.11,473.74 511.79,473.7 C512.46,473.66 513.14,473.62 513.81,473.57 C514.49,473.53 515.16,473.48 515.84,473.42 C516.51,473.37 517.19,473.32 517.86,473.26 C518.54,473.2 519.21,473.13 519.89,473.06 C520.56,473 521.24,472.92 521.91,472.85 C522.59,472.77 523.26,472.69 523.93,472.6 C524.61,472.52 525.28,472.43 525.96,472.33 C526.63,472.24 527.31,472.14 527.98,472.03 C528.66,471.93 529.33,471.82 530.01,471.7 C530.68,471.59 531.36,471.46 532.03,471.34 C532.71,471.21 533.38,471.08 534.06,470.94 C534.73,470.8 535.4,470.65 536.08,470.5 C536.75,470.35 537.43,470.19 538.1,470.02 C538.78,469.86 539.45,469.69 540.13,469.51 C540.8,469.33 541.48,469.14 542.15,468.95 C542.83,468.76 543.5,468.56 544.18,468.35 C544.85,468.14 545.53,467.93 546.2,467.71 C546.87,467.48 547.55,467.25 548.22,467.02 C548.9,466.78 549.57,466.53 550.25,466.28 C550.92,466.02 551.6,465.76 552.27,465.49 C552.95,465.21 553.62,464.93 554.3,464.64 C554.97,464.35 555.65,464.06 556.32,463.75 C557,463.44 557.67,463.12 558.34,462.8 C559.02,462.47 559.69,462.13 560.37,461.78 C561.04,461.43 561.72,461.07 562.39,460.69 C563.07,460.31 563.74,459.92 564.42,459.52 C565.09,459.11 565.77,458.69 566.44,458.25 C567.12,457.82 567.79,457.37 568.47,456.89 C569.14,456.42 569.81,455.93 570.49,455.43 C571.16,454.92 571.84,454.39 572.51,453.84 C573.19,453.29 573.86,452.73 574.54,452.14 C575.21,451.54 575.89,450.93 576.56,450.29 C577.24,449.66 577.91,449 578.59,448.31 C579.26,447.63 579.94,446.92 580.61,446.18 C581.29,445.45 581.96,444.68 582.63,443.89 C583.31,443.1 583.98,442.29 584.66,441.45 C585.33,440.6 586.01,439.73 586.68,438.84 C587.36,437.95 588.03,437.03 588.71,436.1 C589.38,435.16 590.06,434.19 590.73,433.21 C591.41,432.23 592.08,431.22 592.76,430.19 C593.43,429.17 594.1,428.12 594.78,427.06 C595.45,425.99 596.13,424.9 596.8,423.8 C597.48,422.7 598.15,421.58 598.83,420.44 C599.5,419.3 600.18,418.15 600.85,416.98 C601.53,415.81 602.2,414.62 602.88,413.42 C603.55,412.22 604.56,410.39 604.9,409.78" fill="none" stroke="#9A66AE" stroke-width="2" stroke-linecap="round" clip-path="url(#c9)"/>
<line x1="481.1" y1="405.6" x2="481.1" y2="510.5" stroke="#555" stroke-width="1.4"/>
<line x1="480.4" y1="510.5" x2="656.5" y2="510.5" stroke="#363636" stroke-width="1.25"/>
<line x1="478.1" y1="474.2" x2="481.1" y2="474.2" stroke="#555" stroke-width="1"/>
<text x="476.2" y="474.2" transform="rotate(-90 476.2 474.2)" text-anchor="middle" class="tk">1.0</text>
<line x1="478.1" y1="457.05" x2="481.1" y2="457.05" stroke="#555" stroke-width="1"/>
<text x="476.2" y="457.05" transform="rotate(-90 476.2 457.05)" text-anchor="middle" class="tk">1.2</text>
<line x1="478.1" y1="439.9" x2="481.1" y2="439.9" stroke="#555" stroke-width="1"/>
<text x="476.2" y="439.9" transform="rotate(-90 476.2 439.9)" text-anchor="middle" class="tk">1.4</text>
<line x1="478.1" y1="422.75" x2="481.1" y2="422.75" stroke="#555" stroke-width="1"/>
<text x="476.2" y="422.75" transform="rotate(-90 476.2 422.75)" text-anchor="middle" class="tk">1.6</text>
<line x1="478.1" y1="405.6" x2="481.1" y2="405.6" stroke="#555" stroke-width="1"/>
<text x="476.2" y="405.6" transform="rotate(-90 476.2 405.6)" text-anchor="middle" class="tk">1.8</text>
<line x1="487.7" y1="510.5" x2="487.7" y2="512.3" stroke="#555" stroke-width="1"/>
<text x="487.7" y="518.8" text-anchor="middle" class="tk">0</text>
<line x1="510.2" y1="510.5" x2="510.2" y2="512.3" stroke="#555" stroke-width="1"/>
<text x="510.2" y="518.8" text-anchor="middle" class="tk">1</text>
<line x1="532.7" y1="510.5" x2="532.7" y2="512.3" stroke="#555" stroke-width="1"/>
<text x="532.7" y="518.8" text-anchor="middle" class="tk">2</text>
<line x1="555.2" y1="510.5" x2="555.2" y2="512.3" stroke="#555" stroke-width="1"/>
<text x="555.2" y="518.8" text-anchor="middle" class="tk">3</text>
<line x1="577.7" y1="510.5" x2="577.7" y2="512.3" stroke="#555" stroke-width="1"/>
<text x="577.7" y="518.8" text-anchor="middle" class="tk">4</text>
<line x1="600.2" y1="510.5" x2="600.2" y2="512.3" stroke="#555" stroke-width="1"/>
<text x="600.2" y="518.8" text-anchor="middle" class="tk">5</text>
<line x1="622.7" y1="510.5" x2="622.7" y2="512.3" stroke="#555" stroke-width="1"/>
<text x="622.7" y="518.8" text-anchor="middle" class="tk">6</text>
<line x1="645.2" y1="510.5" x2="645.2" y2="512.3" stroke="#555" stroke-width="1"/>
<text x="645.2" y="518.8" text-anchor="middle" class="tk">7</text>
<line x1="656.5" y1="483.1" x2="656.5" y2="510.5" stroke="#8c8c8c" stroke-width="1.1"/>
<line x1="656.5" y1="483.1" x2="658.5" y2="483.1" stroke="#8c8c8c" stroke-width="1"/>
<text x="661.3" y="485.8" class="tk">100</text>
<line x1="656.5" y1="495.8" x2="658.5" y2="495.8" stroke="#8c8c8c" stroke-width="1"/>
<text x="661.3" y="498.5" class="tk">50</text>
<line x1="656.5" y1="508.6" x2="658.5" y2="508.6" stroke="#8c8c8c" stroke-width="1"/>
<text x="661.3" y="511.3" class="tk">0</text>
<text x="568.9" y="527.4" text-anchor="middle" class="xl">CEHWI (°C)</text>
<text x="9.8" y="560.4" class="hd">d China</text>
<path d="M0.5,568.5 H684.5 V716.2" fill="none" stroke="#808080" stroke-width="1"/>
<path d="M0.5,568.5 V716.2" fill="none" stroke="#808080" stroke-width="1"/>
<line x1="0" y1="716.2" x2="685" y2="716.2" stroke="#808080" stroke-width="1"/>
<clipPath id="c10"><rect x="28.8" y="583.6" width="174.9" height="104.85"/></clipPath>
<path d="M35.5,652.31 C35.83,650.38 36.84,643.7 37.51,640.73 C38.18,637.76 38.84,635.81 39.51,634.49 C40.18,633.17 40.85,632.85 41.52,632.83 C42.19,632.81 42.86,633.64 43.53,634.37 C44.2,635.1 44.87,636.25 45.53,637.21 C46.2,638.18 46.87,639.26 47.54,640.15 C48.21,641.05 48.88,641.95 49.55,642.56 C50.22,643.17 50.89,643.66 51.56,643.8 C52.22,643.93 52.89,643.71 53.56,643.39 C54.23,643.06 54.9,642.39 55.57,641.84 C56.24,641.29 56.91,640.59 57.58,640.06 C58.24,639.53 58.91,639.07 59.58,638.67 C60.25,638.26 60.92,637.94 61.59,637.65 C62.26,637.36 62.93,637.13 63.6,636.93 C64.27,636.73 64.93,636.57 65.6,636.43 C66.27,636.29 66.94,636.19 67.61,636.08 C68.28,635.97 68.95,635.89 69.62,635.79 C70.29,635.69 70.96,635.61 71.62,635.49 C72.29,635.38 72.96,635.26 73.63,635.1 C74.3,634.95 74.97,634.77 75.64,634.55 C76.31,634.32 76.98,634.07 77.64,633.75 C78.31,633.43 78.98,633.08 79.65,632.64 C80.32,632.21 80.99,631.73 81.66,631.16 C82.33,630.6 83,629.97 83.67,629.25 C84.33,628.53 85,627.74 85.67,626.84 C86.34,625.95 87.01,624.93 87.68,623.89 C88.35,622.84 89.02,621.66 89.69,620.57 C90.36,619.49 91.02,618.34 91.69,617.38 C92.36,616.42 93.37,615.23 93.7,614.8 L93.7,647.91 C93.37,647.72 92.36,647.09 91.69,646.74 C91.02,646.39 90.36,646.09 89.69,645.83 C89.02,645.56 88.35,645.34 87.68,645.15 C87.01,644.95 86.34,644.8 85.67,644.68 C85,644.55 84.33,644.46 83.67,644.4 C83,644.33 82.33,644.3 81.66,644.29 C80.99,644.28 80.32,644.3 79.65,644.33 C78.98,644.36 78.31,644.42 77.64,644.5 C76.98,644.57 76.31,644.66 75.64,644.77 C74.97,644.87 74.3,644.99 73.63,645.12 C72.96,645.25 72.29,645.4 71.62,645.54 C70.96,645.69 70.29,645.85 69.62,646.01 C68.95,646.16 68.28,646.33 67.61,646.49 C66.94,646.65 66.27,646.82 65.6,646.97 C64.93,647.13 64.27,647.29 63.6,647.44 C62.93,647.58 62.26,647.73 61.59,647.85 C60.92,647.98 60.25,648.11 59.58,648.21 C58.91,648.31 58.24,648.41 57.58,648.48 C56.91,648.55 56.24,648.6 55.57,648.66 C54.9,648.72 54.23,648.76 53.56,648.85 C52.89,648.94 52.22,649.04 51.56,649.22 C50.89,649.4 50.22,649.61 49.55,649.94 C48.88,650.26 48.21,650.64 47.54,651.16 C46.87,651.68 46.2,652.3 45.53,653.06 C44.87,653.82 44.2,654.86 43.53,655.71 C42.86,656.57 42.19,657.67 41.52,658.21 C40.85,658.75 40.18,659.13 39.51,658.96 C38.84,658.79 38.18,658.24 37.51,657.18 C36.84,656.11 35.83,653.36 35.5,652.59 Z" fill="#d9d9d9" clip-path="url(#c10)"/>
<rect x="35.4" y="671.3" width="3.09" height="17.15" fill="#f0f0f0" stroke="#111" stroke-width="0.8"/>
<rect x="38.49" y="660.8" width="3.09" height="27.65" fill="#f0f0f0" stroke="#111" stroke-width="0.8"/>
<rect x="41.58" y="670.5" width="3.09" height="17.95" fill="#f0f0f0" stroke="#111" stroke-width="0.8"/>
<rect x="44.67" y="675.5" width="3.09" height="12.95" fill="#f0f0f0" stroke="#111" stroke-width="0.8"/>
<rect x="47.76" y="674.2" width="3.09" height="14.25" fill="#f0f0f0" stroke="#111" stroke-width="0.8"/>
<rect x="50.85" y="678.1" width="3.09" height="10.35" fill="#f0f0f0" stroke="#111" stroke-width="0.8"/>
<rect x="53.94" y="677.5" width="3.09" height="10.95" fill="#f0f0f0" stroke="#111" stroke-width="0.8"/>
<rect x="57.03" y="680.3" width="3.09" height="8.15" fill="#f0f0f0" stroke="#111" stroke-width="0.8"/>
<rect x="60.12" y="682.5" width="3.09" height="5.95" fill="#f0f0f0" stroke="#111" stroke-width="0.8"/>
<rect x="63.21" y="684.2" width="3.09" height="4.25" fill="#f0f0f0" stroke="#111" stroke-width="0.8"/>
<rect x="66.3" y="683.3" width="3.09" height="5.15" fill="#f0f0f0" stroke="#111" stroke-width="0.8"/>
<rect x="69.39" y="685.4" width="3.09" height="3.05" fill="#f0f0f0" stroke="#111" stroke-width="0.8"/>
<rect x="72.48" y="686.4" width="3.09" height="2.05" fill="#f0f0f0" stroke="#111" stroke-width="0.8"/>
<rect x="75.57" y="685.4" width="3.09" height="3.05" fill="#f0f0f0" stroke="#111" stroke-width="0.8"/>
<rect x="78.66" y="686.4" width="3.09" height="2.05" fill="#f0f0f0" stroke="#111" stroke-width="0.8"/>
<rect x="81.75" y="686.6" width="3.09" height="1.85" fill="#f0f0f0" stroke="#111" stroke-width="0.8"/>
<rect x="84.84" y="686.6" width="3.09" height="1.85" fill="#f0f0f0" stroke="#111" stroke-width="0.8"/>
<rect x="87.93" y="686.6" width="3.09" height="1.85" fill="#f0f0f0" stroke="#111" stroke-width="0.8"/>
<rect x="91.02" y="685.6" width="3.09" height="2.85" fill="#f0f0f0" stroke="#111" stroke-width="0.8"/>
<line x1="40.4" y1="583.6" x2="40.4" y2="688.45" stroke="#6e6e6e" stroke-width="1.1" stroke-dasharray="2.7 3.0" stroke-dashoffset="1"/>
<line x1="53.5" y1="583.6" x2="53.5" y2="688.45" stroke="#6e6e6e" stroke-width="1.1" stroke-dasharray="2.7 3.0" stroke-dashoffset="1"/>
<line x1="61.4" y1="583.6" x2="61.4" y2="688.45" stroke="#1a1a1a" stroke-width="1.1" stroke-dasharray="2.7 3.0" stroke-dashoffset="1"/>
<line x1="28.8" y1="652.45" x2="203.7" y2="652.45" stroke="#333" stroke-width="1.25"/>
<path d="M35.5,652.47 C35.84,652.06 36.84,650.7 37.51,649.98 C38.18,649.27 38.85,648.69 39.52,648.19 C40.19,647.68 40.86,647.29 41.53,646.95 C42.2,646.61 42.87,646.36 43.54,646.14 C44.21,645.92 44.88,645.78 45.55,645.64 C46.22,645.49 46.89,645.4 47.56,645.3 C48.23,645.19 48.9,645.11 49.57,645.02 C50.24,644.94 50.91,644.86 51.58,644.79 C52.25,644.71 52.92,644.64 53.59,644.56 C54.26,644.49 54.93,644.41 55.6,644.33 C56.27,644.25 56.94,644.17 57.61,644.08 C58.28,643.99 58.95,643.89 59.62,643.78 C60.29,643.66 60.96,643.54 61.63,643.4 C62.3,643.27 62.97,643.11 63.64,642.95 C64.31,642.79 64.99,642.61 65.66,642.42 C66.33,642.24 67,642.04 67.67,641.83 C68.34,641.63 69.01,641.41 69.68,641.19 C70.35,640.97 71.02,640.74 71.69,640.5 C72.36,640.27 73.03,640.02 73.7,639.78 C74.37,639.53 75.04,639.28 75.71,639.03 C76.38,638.78 77.05,638.52 77.72,638.27 C78.39,638.01 79.06,637.76 79.73,637.5 C80.4,637.25 81.07,636.99 81.74,636.74 C82.41,636.49 83.08,636.24 83.75,635.99 C84.42,635.74 85.09,635.5 85.76,635.27 C86.43,635.03 87.1,634.8 87.77,634.58 C88.44,634.35 89.11,634.14 89.78,633.93 C90.45,633.72 91.12,633.52 91.79,633.34 C92.46,633.15 93.46,632.89 93.8,632.81" fill="none" stroke="#45629C" stroke-width="2" stroke-linecap="round" clip-path="url(#c10)"/>
<line x1="28.8" y1="583.6" x2="28.8" y2="688.45" stroke="#888" stroke-width="1.8"/>
<line x1="27.9" y1="688.45" x2="203.7" y2="688.45" stroke="#3a3a3a" stroke-width="1.25"/>
<line x1="25.8" y1="652.45" x2="28.8" y2="652.45" stroke="#555" stroke-width="1"/>
<text x="24.4" y="652.45" transform="rotate(-90 24.4 652.45)" text-anchor="middle" class="tk">1.0</text>
<line x1="25.8" y1="635.24" x2="28.8" y2="635.24" stroke="#555" stroke-width="1"/>
<text x="24.4" y="635.24" transform="rotate(-90 24.4 635.24)" text-anchor="middle" class="tk">1.2</text>
<line x1="25.8" y1="618.03" x2="28.8" y2="618.03" stroke="#555" stroke-width="1"/>
<text x="24.4" y="618.03" transform="rotate(-90 24.4 618.03)" text-anchor="middle" class="tk">1.4</text>
<line x1="25.8" y1="600.81" x2="28.8" y2="600.81" stroke="#555" stroke-width="1"/>
<text x="24.4" y="600.81" transform="rotate(-90 24.4 600.81)" text-anchor="middle" class="tk">1.6</text>
<line x1="25.8" y1="583.6" x2="28.8" y2="583.6" stroke="#555" stroke-width="1"/>
<text x="24.4" y="583.6" transform="rotate(-90 24.4 583.6)" text-anchor="middle" class="tk">1.8</text>
<line x1="35.2" y1="688.45" x2="35.2" y2="690.25" stroke="#555" stroke-width="1"/>
<text x="35.2" y="696.6" text-anchor="middle" class="tk">0</text>
<line x1="57.65" y1="688.45" x2="57.65" y2="690.25" stroke="#555" stroke-width="1"/>
<text x="57.65" y="696.6" text-anchor="middle" class="tk">1</text>
<line x1="80.1" y1="688.45" x2="80.1" y2="690.25" stroke="#555" stroke-width="1"/>
<text x="80.1" y="696.6" text-anchor="middle" class="tk">2</text>
<line x1="102.55" y1="688.45" x2="102.55" y2="690.25" stroke="#555" stroke-width="1"/>
<text x="102.55" y="696.6" text-anchor="middle" class="tk">3</text>
<line x1="125" y1="688.45" x2="125" y2="690.25" stroke="#555" stroke-width="1"/>
<text x="125" y="696.6" text-anchor="middle" class="tk">4</text>
<line x1="147.45" y1="688.45" x2="147.45" y2="690.25" stroke="#555" stroke-width="1"/>
<text x="147.45" y="696.6" text-anchor="middle" class="tk">5</text>
<line x1="169.9" y1="688.45" x2="169.9" y2="690.25" stroke="#555" stroke-width="1"/>
<text x="169.9" y="696.6" text-anchor="middle" class="tk">6</text>
<line x1="192.35" y1="688.45" x2="192.35" y2="690.25" stroke="#555" stroke-width="1"/>
<text x="192.35" y="696.6" text-anchor="middle" class="tk">7</text>
<line x1="203.7" y1="660.9" x2="203.7" y2="688.45" stroke="#8c8c8c" stroke-width="1.1"/>
<line x1="203.7" y1="660.9" x2="205.7" y2="660.9" stroke="#8c8c8c" stroke-width="1"/>
<text x="208.5" y="663.6" class="tk">40</text>
<line x1="203.7" y1="673.8" x2="205.7" y2="673.8" stroke="#8c8c8c" stroke-width="1"/>
<text x="208.5" y="676.5" class="tk">20</text>
<line x1="203.7" y1="686.3" x2="205.7" y2="686.3" stroke="#8c8c8c" stroke-width="1"/>
<text x="208.5" y="689" class="tk">0</text>
<text x="116.6" y="705.2" text-anchor="middle" class="xl">CEHWI (°C)</text>
<text x="15.4" y="617.4" transform="rotate(-90 15.4 617.4)" text-anchor="middle" class="rr">Relative risk</text>
<text x="226.4" y="672.6" transform="rotate(-90 226.4 672.6)" text-anchor="middle" class="fq">Frequency</text>
<clipPath id="c11"><rect x="255.2" y="583.6" width="174.4" height="104.85"/></clipPath>
<path d="M260.6,652.02 C260.94,651.33 261.95,649.22 262.63,647.9 C263.31,646.59 263.98,645.32 264.66,644.12 C265.34,642.92 266.01,641.78 266.69,640.71 C267.37,639.64 268.04,638.64 268.72,637.71 C269.39,636.78 270.07,635.92 270.75,635.15 C271.42,634.38 272.1,633.67 272.78,633.07 C273.45,632.46 274.13,631.93 274.81,631.5 C275.48,631.06 276.16,630.72 276.84,630.47 C277.51,630.23 278.19,630.08 278.87,630.01 C279.54,629.94 280.22,629.97 280.9,630.07 C281.57,630.16 282.25,630.34 282.92,630.58 C283.6,630.82 284.28,631.14 284.95,631.51 C285.63,631.88 286.31,632.32 286.98,632.8 C287.66,633.27 288.34,633.81 289.01,634.37 C289.69,634.93 290.37,635.54 291.04,636.15 C291.72,636.76 292.4,637.41 293.07,638.05 C293.75,638.69 294.43,639.35 295.1,639.99 C295.78,640.63 296.45,641.27 297.13,641.88 C297.81,642.49 298.48,643.09 299.16,643.65 C299.84,644.21 300.51,644.73 301.19,645.23 C301.87,645.72 302.54,646.18 303.22,646.6 C303.9,647.03 304.57,647.42 305.25,647.77 C305.93,648.13 306.6,648.45 307.28,648.74 C307.96,649.03 308.63,649.29 309.31,649.51 C309.98,649.73 310.66,649.91 311.34,650.06 C312.01,650.22 312.69,650.33 313.37,650.41 C314.04,650.5 314.72,650.54 315.4,650.56 C316.07,650.58 316.75,650.56 317.43,650.53 C318.1,650.49 318.78,650.42 319.46,650.34 C320.13,650.26 320.81,650.15 321.49,650.03 C322.16,649.91 322.84,649.77 323.51,649.63 C324.19,649.48 324.87,649.31 325.54,649.15 C326.22,648.98 326.9,648.81 327.57,648.63 C328.25,648.46 328.93,648.27 329.6,648.1 C330.28,647.92 330.96,647.75 331.63,647.58 C332.31,647.41 332.99,647.24 333.66,647.08 C334.34,646.91 335.02,646.75 335.69,646.59 C336.37,646.43 337.04,646.27 337.72,646.12 C338.4,645.96 339.07,645.81 339.75,645.65 C340.43,645.5 341.1,645.35 341.78,645.19 C342.46,645.04 343.13,644.89 343.81,644.74 C344.49,644.59 345.16,644.43 345.84,644.28 C346.52,644.13 347.19,643.98 347.87,643.82 C348.55,643.67 349.22,643.51 349.9,643.35 C350.57,643.19 351.25,643.03 351.93,642.87 C352.6,642.71 353.28,642.54 353.96,642.37 C354.63,642.2 355.31,642.03 355.99,641.85 C356.66,641.67 357.34,641.48 358.02,641.29 C358.69,641.1 359.37,640.91 360.05,640.71 C360.72,640.51 361.4,640.3 362.08,640.09 C362.75,639.87 363.43,639.65 364.1,639.42 C364.78,639.19 365.46,638.95 366.13,638.7 C366.81,638.45 367.49,638.2 368.16,637.93 C368.84,637.66 369.52,637.39 370.19,637.1 C370.87,636.81 371.55,636.52 372.22,636.21 C372.9,635.9 373.58,635.58 374.25,635.24 C374.93,634.91 375.61,634.56 376.28,634.2 C376.96,633.84 377.63,633.47 378.31,633.09 C378.99,632.7 379.66,632.3 380.34,631.88 C381.02,631.47 381.69,631.04 382.37,630.59 C383.05,630.14 384.06,629.43 384.4,629.2 L384.4,649.6 C384.06,649.59 383.05,649.56 382.37,649.55 C381.69,649.53 381.02,649.52 380.34,649.51 C379.66,649.51 378.99,649.5 378.31,649.5 C377.63,649.51 376.96,649.51 376.28,649.52 C375.61,649.53 374.93,649.54 374.25,649.56 C373.58,649.58 372.9,649.6 372.22,649.62 C371.55,649.65 370.87,649.68 370.19,649.71 C369.52,649.75 368.84,649.78 368.16,649.83 C367.49,649.87 366.81,649.91 366.13,649.97 C365.46,650.02 364.78,650.07 364.1,650.13 C363.43,650.19 362.75,650.25 362.08,650.32 C361.4,650.39 360.72,650.46 360.05,650.54 C359.37,650.62 358.69,650.7 358.02,650.78 C357.34,650.87 356.66,650.96 355.99,651.06 C355.31,651.15 354.63,651.25 353.96,651.35 C353.28,651.46 352.6,651.56 351.93,651.67 C351.25,651.78 350.57,651.9 349.9,652.01 C349.22,652.13 348.55,652.24 347.87,652.36 C347.19,652.48 346.52,652.6 345.84,652.72 C345.16,652.84 344.49,652.96 343.81,653.07 C343.13,653.19 342.46,653.31 341.78,653.43 C341.1,653.54 340.43,653.66 339.75,653.77 C339.07,653.88 338.4,653.99 337.72,654.1 C337.04,654.2 336.37,654.3 335.69,654.4 C335.02,654.5 334.34,654.59 333.66,654.68 C332.99,654.77 332.31,654.86 331.63,654.93 C330.96,655.01 330.28,655.08 329.6,655.15 C328.93,655.21 328.25,655.27 327.57,655.32 C326.9,655.37 326.22,655.41 325.54,655.44 C324.87,655.47 324.19,655.5 323.51,655.51 C322.84,655.52 322.16,655.53 321.49,655.52 C320.81,655.52 320.13,655.5 319.46,655.47 C318.78,655.44 318.1,655.4 317.43,655.35 C316.75,655.3 316.07,655.23 315.4,655.17 C314.72,655.1 314.04,655.02 313.37,654.95 C312.69,654.88 312.01,654.81 311.34,654.76 C310.66,654.7 309.98,654.65 309.31,654.63 C308.63,654.6 307.96,654.59 307.28,654.61 C306.6,654.63 305.93,654.67 305.25,654.75 C304.57,654.82 303.9,654.94 303.22,655.08 C302.54,655.22 301.87,655.4 301.19,655.59 C300.51,655.78 299.84,656 299.16,656.24 C298.48,656.47 297.81,656.73 297.13,657 C296.45,657.26 295.78,657.54 295.1,657.82 C294.43,658.1 293.75,658.4 293.07,658.69 C292.4,658.97 291.72,659.27 291.04,659.55 C290.37,659.83 289.69,660.12 289.01,660.38 C288.34,660.65 287.66,660.91 286.98,661.14 C286.31,661.38 285.63,661.61 284.95,661.8 C284.28,662 283.6,662.18 282.92,662.32 C282.25,662.47 281.57,662.59 280.9,662.67 C280.22,662.75 279.54,662.8 278.87,662.82 C278.19,662.83 277.51,662.81 276.84,662.75 C276.16,662.69 275.48,662.59 274.81,662.45 C274.13,662.3 273.45,662.12 272.78,661.88 C272.1,661.65 271.42,661.37 270.75,661.04 C270.07,660.71 269.39,660.33 268.72,659.9 C268.04,659.47 267.37,658.99 266.69,658.46 C266.01,657.94 265.34,657.36 264.66,656.73 C263.98,656.11 263.31,655.43 262.63,654.71 C261.95,653.99 260.94,652.78 260.6,652.39 Z" fill="#d9d9d9" clip-path="url(#c11)"/>
<rect x="261.2" y="686.6" width="6.5" height="1.85" fill="#f0f0f0" stroke="#111" stroke-width="0.8"/>
<rect x="267.7" y="675.8" width="6.5" height="12.65" fill="#f0f0f0" stroke="#111" stroke-width="0.8"/>
<rect x="274.2" y="660.4" width="6.5" height="28.05" fill="#f0f0f0" stroke="#111" stroke-width="0.8"/>
<rect x="280.7" y="667.2" width="6.5" height="21.25" fill="#f0f0f0" stroke="#111" stroke-width="0.8"/>
<rect x="287.2" y="676.8" width="6.5" height="11.65" fill="#f0f0f0" stroke="#111" stroke-width="0.8"/>
<rect x="293.7" y="676.8" width="6.5" height="11.65" fill="#f0f0f0" stroke="#111" stroke-width="0.8"/>
<rect x="300.2" y="678.2" width="6.5" height="10.25" fill="#f0f0f0" stroke="#111" stroke-width="0.8"/>
<rect x="306.7" y="678.2" width="6.5" height="10.25" fill="#f0f0f0" stroke="#111" stroke-width="0.8"/>
<rect x="313.2" y="679.4" width="6.5" height="9.05" fill="#f0f0f0" stroke="#111" stroke-width="0.8"/>
<rect x="319.7" y="673.1" width="6.5" height="15.35" fill="#f0f0f0" stroke="#111" stroke-width="0.8"/>
<rect x="326.2" y="679.4" width="6.5" height="9.05" fill="#f0f0f0" stroke="#111" stroke-width="0.8"/>
<rect x="332.7" y="678.4" width="6.5" height="10.05" fill="#f0f0f0" stroke="#111" stroke-width="0.8"/>
<rect x="339.2" y="682.9" width="6.5" height="5.55" fill="#f0f0f0" stroke="#111" stroke-width="0.8"/>
<rect x="345.7" y="684.6" width="6.5" height="3.85" fill="#f0f0f0" stroke="#111" stroke-width="0.8"/>
<rect x="352.2" y="681.9" width="6.5" height="6.55" fill="#f0f0f0" stroke="#111" stroke-width="0.8"/>
<rect x="358.7" y="683.3" width="6.5" height="5.15" fill="#f0f0f0" stroke="#111" stroke-width="0.8"/>
<rect x="365.2" y="685.4" width="6.5" height="3.05" fill="#f0f0f0" stroke="#111" stroke-width="0.8"/>
<rect x="371.7" y="684.6" width="6.5" height="3.85" fill="#f0f0f0" stroke="#111" stroke-width="0.8"/>
<rect x="378.2" y="685.3" width="6.5" height="3.15" fill="#f0f0f0" stroke="#111" stroke-width="0.8"/>
<line x1="280.7" y1="583.6" x2="280.7" y2="688.45" stroke="#6e6e6e" stroke-width="1.1" stroke-dasharray="2.7 3.0" stroke-dashoffset="1"/>
<line x1="323.6" y1="583.6" x2="323.6" y2="688.45" stroke="#6e6e6e" stroke-width="1.1" stroke-dasharray="2.7 3.0" stroke-dashoffset="1"/>
<line x1="347.7" y1="583.6" x2="347.7" y2="688.45" stroke="#1a1a1a" stroke-width="1.1" stroke-dasharray="2.7 3.0" stroke-dashoffset="1"/>
<line x1="255.2" y1="652.45" x2="429.6" y2="652.45" stroke="#333" stroke-width="1.25"/>
<path d="M260.6,652.2 C260.94,652.09 261.95,651.74 262.63,651.54 C263.31,651.34 263.98,651.16 264.66,650.99 C265.34,650.83 266.01,650.68 266.69,650.56 C267.37,650.43 268.04,650.32 268.72,650.22 C269.39,650.12 270.07,650.04 270.75,649.98 C271.42,649.91 272.1,649.86 272.78,649.82 C273.45,649.78 274.13,649.75 274.81,649.74 C275.48,649.72 276.16,649.71 276.84,649.72 C277.51,649.72 278.19,649.74 278.87,649.76 C279.54,649.79 280.22,649.82 280.9,649.86 C281.57,649.89 282.25,649.94 282.92,649.99 C283.6,650.04 284.28,650.1 284.95,650.16 C285.63,650.22 286.31,650.29 286.98,650.36 C287.66,650.43 288.34,650.5 289.01,650.57 C289.69,650.64 290.37,650.72 291.04,650.79 C291.72,650.87 292.4,650.95 293.07,651.03 C293.75,651.1 294.43,651.18 295.1,651.26 C295.78,651.34 296.45,651.42 297.13,651.5 C297.81,651.57 298.48,651.65 299.16,651.73 C299.84,651.8 300.51,651.88 301.19,651.95 C301.87,652.02 302.54,652.09 303.22,652.16 C303.9,652.22 304.57,652.29 305.25,652.35 C305.93,652.41 306.6,652.47 307.28,652.52 C307.96,652.57 308.63,652.62 309.31,652.66 C309.98,652.71 310.66,652.75 311.34,652.78 C312.01,652.81 312.69,652.84 313.37,652.86 C314.04,652.88 314.72,652.9 315.4,652.91 C316.07,652.91 316.75,652.92 317.43,652.91 C318.1,652.9 318.78,652.89 319.46,652.87 C320.13,652.85 320.81,652.83 321.49,652.79 C322.16,652.76 322.84,652.72 323.51,652.68 C324.19,652.63 324.87,652.58 325.54,652.52 C326.22,652.46 326.9,652.4 327.57,652.33 C328.25,652.26 328.93,652.19 329.6,652.11 C330.28,652.03 330.96,651.94 331.63,651.85 C332.31,651.77 332.99,651.67 333.66,651.57 C334.34,651.47 335.02,651.37 335.69,651.26 C336.37,651.15 337.04,651.04 337.72,650.92 C338.4,650.8 339.07,650.68 339.75,650.56 C340.43,650.43 341.1,650.3 341.78,650.17 C342.46,650.04 343.13,649.9 343.81,649.76 C344.49,649.63 345.16,649.48 345.84,649.34 C346.52,649.19 347.19,649.04 347.87,648.89 C348.55,648.74 349.22,648.59 349.9,648.43 C350.57,648.28 351.25,648.12 351.93,647.96 C352.6,647.8 353.28,647.64 353.96,647.47 C354.63,647.31 355.31,647.15 355.99,646.98 C356.66,646.81 357.34,646.64 358.02,646.47 C358.69,646.3 359.37,646.13 360.05,645.96 C360.72,645.79 361.4,645.62 362.08,645.44 C362.75,645.27 363.43,645.1 364.1,644.92 C364.78,644.75 365.46,644.57 366.13,644.4 C366.81,644.22 367.49,644.05 368.16,643.88 C368.84,643.7 369.52,643.53 370.19,643.35 C370.87,643.18 371.55,643.01 372.22,642.84 C372.9,642.67 373.58,642.49 374.25,642.32 C374.93,642.16 375.61,641.99 376.28,641.82 C376.96,641.65 377.63,641.49 378.31,641.32 C378.99,641.16 379.66,641 380.34,640.84 C381.02,640.68 381.69,640.52 382.37,640.36 C383.05,640.21 384.06,639.98 384.4,639.9" fill="none" stroke="#45629C" stroke-width="2" stroke-linecap="round" clip-path="url(#c11)"/>
<line x1="255.2" y1="583.6" x2="255.2" y2="688.45" stroke="#888" stroke-width="1.8"/>
<line x1="254.3" y1="688.45" x2="429.6" y2="688.45" stroke="#3a3a3a" stroke-width="1.25"/>
<line x1="252.2" y1="652.45" x2="255.2" y2="652.45" stroke="#555" stroke-width="1"/>
<text x="250.3" y="652.45" transform="rotate(-90 250.3 652.45)" text-anchor="middle" class="tk">1.0</text>
<line x1="252.2" y1="635.24" x2="255.2" y2="635.24" stroke="#555" stroke-width="1"/>
<text x="250.3" y="635.24" transform="rotate(-90 250.3 635.24)" text-anchor="middle" class="tk">1.2</text>
<line x1="252.2" y1="618.03" x2="255.2" y2="618.03" stroke="#555" stroke-width="1"/>
<text x="250.3" y="618.03" transform="rotate(-90 250.3 618.03)" text-anchor="middle" class="tk">1.4</text>
<line x1="252.2" y1="600.81" x2="255.2" y2="600.81" stroke="#555" stroke-width="1"/>
<text x="250.3" y="600.81" transform="rotate(-90 250.3 600.81)" text-anchor="middle" class="tk">1.6</text>
<line x1="252.2" y1="583.6" x2="255.2" y2="583.6" stroke="#555" stroke-width="1"/>
<text x="250.3" y="583.6" transform="rotate(-90 250.3 583.6)" text-anchor="middle" class="tk">1.8</text>
<line x1="261.3" y1="688.45" x2="261.3" y2="690.25" stroke="#555" stroke-width="1"/>
<text x="261.3" y="696.7" text-anchor="middle" class="tk">0</text>
<line x1="283.7" y1="688.45" x2="283.7" y2="690.25" stroke="#555" stroke-width="1"/>
<text x="283.7" y="696.7" text-anchor="middle" class="tk">1</text>
<line x1="306.1" y1="688.45" x2="306.1" y2="690.25" stroke="#555" stroke-width="1"/>
<text x="306.1" y="696.7" text-anchor="middle" class="tk">2</text>
<line x1="328.5" y1="688.45" x2="328.5" y2="690.25" stroke="#555" stroke-width="1"/>
<text x="328.5" y="696.7" text-anchor="middle" class="tk">3</text>
<line x1="350.9" y1="688.45" x2="350.9" y2="690.25" stroke="#555" stroke-width="1"/>
<text x="350.9" y="696.7" text-anchor="middle" class="tk">4</text>
<line x1="373.3" y1="688.45" x2="373.3" y2="690.25" stroke="#555" stroke-width="1"/>
<text x="373.3" y="696.7" text-anchor="middle" class="tk">5</text>
<line x1="395.7" y1="688.45" x2="395.7" y2="690.25" stroke="#555" stroke-width="1"/>
<text x="395.7" y="696.7" text-anchor="middle" class="tk">6</text>
<line x1="418.1" y1="688.45" x2="418.1" y2="690.25" stroke="#555" stroke-width="1"/>
<text x="418.1" y="696.7" text-anchor="middle" class="tk">7</text>
<line x1="429.6" y1="660.9" x2="429.6" y2="688.45" stroke="#8c8c8c" stroke-width="1.1"/>
<line x1="429.6" y1="660.9" x2="431.6" y2="660.9" stroke="#8c8c8c" stroke-width="1"/>
<text x="434" y="663.6" class="tk">40</text>
<line x1="429.6" y1="673.8" x2="431.6" y2="673.8" stroke="#8c8c8c" stroke-width="1"/>
<text x="434" y="676.5" class="tk">20</text>
<line x1="429.6" y1="686.3" x2="431.6" y2="686.3" stroke="#8c8c8c" stroke-width="1"/>
<text x="434" y="689" class="tk">0</text>
<text x="342.5" y="705.2" text-anchor="middle" class="xl">CEHWI (°C)</text>
<clipPath id="c12"><rect x="480.7" y="583.6" width="174.6" height="104.85"/></clipPath>
<path d="M486.2,652.01 C486.53,651.63 487.54,650.53 488.2,649.69 C488.87,648.86 489.54,647.95 490.21,647.02 C490.88,646.08 491.55,645.09 492.21,644.09 C492.88,643.09 493.55,642.04 494.22,641.01 C494.89,639.98 495.56,638.92 496.22,637.9 C496.89,636.87 497.56,635.84 498.23,634.84 C498.9,633.85 499.57,632.87 500.23,631.94 C500.9,631 501.57,630.09 502.24,629.23 C502.91,628.37 503.57,627.55 504.24,626.79 C504.91,626.02 505.58,625.3 506.25,624.63 C506.92,623.96 507.58,623.34 508.25,622.77 C508.92,622.19 509.59,621.66 510.26,621.17 C510.93,620.68 511.59,620.23 512.26,619.82 C512.93,619.42 513.6,619.05 514.27,618.72 C514.93,618.39 515.6,618.1 516.27,617.85 C516.94,617.59 517.61,617.37 518.28,617.18 C518.94,617 519.61,616.84 520.28,616.72 C520.95,616.6 521.62,616.51 522.29,616.44 C522.95,616.38 523.62,616.34 524.29,616.33 C524.96,616.32 525.63,616.34 526.3,616.38 C526.96,616.42 527.63,616.49 528.3,616.57 C528.97,616.66 529.64,616.77 530.3,616.89 C530.97,617.02 531.64,617.17 532.31,617.34 C532.98,617.5 533.65,617.69 534.31,617.88 C534.98,618.08 535.65,618.3 536.32,618.53 C536.99,618.76 537.66,619.01 538.32,619.26 C538.99,619.52 539.66,619.79 540.33,620.07 C541,620.35 541.67,620.64 542.33,620.93 C543,621.23 543.67,621.54 544.34,621.85 C545.01,622.17 545.67,622.49 546.34,622.81 C547.01,623.13 547.68,623.46 548.35,623.79 C549.02,624.13 549.68,624.46 550.35,624.8 C551.02,625.13 551.69,625.47 552.36,625.8 C553.03,626.14 553.69,626.47 554.36,626.8 C555.03,627.13 555.7,627.46 556.37,627.78 C557.03,628.1 557.7,628.42 558.37,628.73 C559.04,629.04 559.71,629.35 560.38,629.64 C561.04,629.94 561.71,630.23 562.38,630.5 C563.05,630.78 563.72,631.04 564.39,631.3 C565.05,631.55 565.72,631.79 566.39,632.01 C567.06,632.24 567.73,632.45 568.4,632.65 C569.06,632.85 569.73,633.03 570.4,633.2 C571.07,633.37 571.74,633.52 572.4,633.66 C573.07,633.81 573.74,633.93 574.41,634.05 C575.08,634.16 575.75,634.26 576.41,634.35 C577.08,634.43 577.75,634.5 578.42,634.56 C579.09,634.62 579.76,634.66 580.42,634.7 C581.09,634.73 581.76,634.74 582.43,634.75 C583.1,634.75 583.77,634.74 584.43,634.72 C585.1,634.69 585.77,634.65 586.44,634.6 C587.11,634.55 587.77,634.49 588.44,634.41 C589.11,634.33 589.78,634.24 590.45,634.13 C591.12,634.03 591.78,633.91 592.45,633.78 C593.12,633.65 593.79,633.5 594.46,633.34 C595.13,633.18 595.79,633.01 596.46,632.83 C597.13,632.64 597.8,632.44 598.47,632.23 C599.13,632.02 599.8,631.79 600.47,631.55 C601.14,631.32 601.81,631.07 602.48,630.8 C603.14,630.54 603.81,630.26 604.48,629.97 C605.15,629.68 605.82,629.37 606.49,629.06 C607.15,628.74 607.82,628.41 608.49,628.07 C609.16,627.73 609.83,627.37 610.5,627 C611.16,626.63 611.83,626.25 612.5,625.86 C613.17,625.47 613.84,625.06 614.5,624.64 C615.17,624.22 615.84,623.79 616.51,623.34 C617.18,622.9 617.85,622.44 618.51,621.97 C619.18,621.5 619.85,621.02 620.52,620.52 C621.19,620.03 621.86,619.52 622.52,619 C623.19,618.48 623.86,617.94 624.53,617.4 C625.2,616.85 625.87,616.29 626.53,615.72 C627.2,615.15 627.87,614.57 628.54,613.97 C629.21,613.38 629.87,612.77 630.54,612.15 C631.21,611.53 631.88,610.9 632.55,610.25 C633.22,609.61 633.88,608.95 634.55,608.28 C635.22,607.61 635.89,606.93 636.56,606.24 C637.23,605.55 637.89,604.84 638.56,604.12 C639.23,603.41 639.9,602.68 640.57,601.93 C641.23,601.19 641.9,600.44 642.57,599.67 C643.24,598.91 643.91,598.13 644.58,597.34 C645.24,596.55 645.91,595.75 646.58,594.94 C647.25,594.12 647.92,593.3 648.59,592.46 C649.25,591.62 649.92,590.78 650.59,589.92 C651.26,589.06 651.93,588.18 652.6,587.3 C653.26,586.42 654.27,585.06 654.6,584.61 L654.6,650.3 C654.27,650.22 653.26,649.97 652.6,649.81 C651.93,649.65 651.26,649.49 650.59,649.33 C649.92,649.17 649.25,649 648.59,648.84 C647.92,648.68 647.25,648.52 646.58,648.36 C645.91,648.2 645.24,648.04 644.58,647.88 C643.91,647.72 643.24,647.56 642.57,647.4 C641.9,647.24 641.23,647.09 640.57,646.93 C639.9,646.77 639.23,646.62 638.56,646.47 C637.89,646.31 637.23,646.16 636.56,646.01 C635.89,645.86 635.22,645.71 634.55,645.56 C633.88,645.42 633.22,645.27 632.55,645.13 C631.88,644.99 631.21,644.85 630.54,644.71 C629.87,644.57 629.21,644.43 628.54,644.3 C627.87,644.17 627.2,644.04 626.53,643.91 C625.87,643.78 625.2,643.66 624.53,643.53 C623.86,643.41 623.19,643.29 622.52,643.18 C621.86,643.06 621.19,642.95 620.52,642.84 C619.85,642.73 619.18,642.62 618.51,642.52 C617.85,642.42 617.18,642.32 616.51,642.23 C615.84,642.13 615.17,642.04 614.5,641.95 C613.84,641.87 613.17,641.79 612.5,641.71 C611.83,641.63 611.16,641.56 610.5,641.49 C609.83,641.42 609.16,641.36 608.49,641.3 C607.82,641.24 607.15,641.19 606.49,641.14 C605.82,641.09 605.15,641.05 604.48,641.02 C603.81,640.99 603.14,640.96 602.48,640.95 C601.81,640.93 601.14,640.92 600.47,640.93 C599.8,640.93 599.13,640.94 598.47,640.97 C597.8,640.99 597.13,641.03 596.46,641.08 C595.79,641.12 595.13,641.18 594.46,641.26 C593.79,641.33 593.12,641.41 592.45,641.52 C591.78,641.62 591.12,641.73 590.45,641.86 C589.78,641.99 589.11,642.14 588.44,642.3 C587.77,642.47 587.11,642.65 586.44,642.85 C585.77,643.05 585.1,643.26 584.43,643.5 C583.77,643.73 583.1,643.99 582.43,644.26 C581.76,644.53 581.09,644.82 580.42,645.13 C579.76,645.44 579.09,645.77 578.42,646.1 C577.75,646.44 577.08,646.8 576.41,647.16 C575.75,647.53 575.08,647.91 574.41,648.29 C573.74,648.68 573.07,649.08 572.4,649.49 C571.74,649.89 571.07,650.31 570.4,650.73 C569.73,651.15 569.06,651.58 568.4,652.01 C567.73,652.44 567.06,652.88 566.39,653.32 C565.72,653.76 565.05,654.2 564.39,654.64 C563.72,655.08 563.05,655.52 562.38,655.96 C561.71,656.39 561.04,656.83 560.38,657.26 C559.71,657.7 559.04,658.13 558.37,658.55 C557.7,658.97 557.03,659.39 556.37,659.8 C555.7,660.21 555.03,660.61 554.36,661 C553.69,661.4 553.03,661.79 552.36,662.16 C551.69,662.54 551.02,662.91 550.35,663.27 C549.68,663.64 549.02,663.99 548.35,664.33 C547.68,664.68 547.01,665.01 546.34,665.33 C545.67,665.66 545.01,665.97 544.34,666.27 C543.67,666.58 543,666.87 542.33,667.15 C541.67,667.44 541,667.71 540.33,667.97 C539.66,668.22 538.99,668.47 538.32,668.71 C537.66,668.94 536.99,669.17 536.32,669.38 C535.65,669.59 534.98,669.78 534.31,669.97 C533.65,670.15 532.98,670.32 532.31,670.48 C531.64,670.64 530.97,670.78 530.3,670.91 C529.64,671.04 528.97,671.15 528.3,671.25 C527.63,671.35 526.96,671.44 526.3,671.5 C525.63,671.57 524.96,671.63 524.29,671.66 C523.62,671.7 522.95,671.72 522.29,671.72 C521.62,671.73 520.95,671.71 520.28,671.68 C519.61,671.65 518.94,671.61 518.28,671.54 C517.61,671.48 516.94,671.39 516.27,671.29 C515.6,671.19 514.93,671.07 514.27,670.93 C513.6,670.79 512.93,670.63 512.26,670.46 C511.59,670.28 510.93,670.08 510.26,669.86 C509.59,669.65 508.92,669.41 508.25,669.15 C507.58,668.89 506.92,668.61 506.25,668.31 C505.58,668.01 504.91,667.69 504.24,667.35 C503.57,667.01 502.91,666.64 502.24,666.25 C501.57,665.87 500.9,665.46 500.23,665.03 C499.57,664.59 498.9,664.14 498.23,663.66 C497.56,663.18 496.89,662.68 496.22,662.15 C495.56,661.62 494.89,661.07 494.22,660.5 C493.55,659.92 492.88,659.32 492.21,658.7 C491.55,658.07 490.88,657.42 490.21,656.75 C489.54,656.07 488.87,655.37 488.2,654.64 C487.54,653.91 486.53,652.75 486.2,652.38 Z" fill="#d9d9d9" clip-path="url(#c12)"/>
<rect x="486.6" y="686.6" width="8.51" height="1.85" fill="#f0f0f0" stroke="#111" stroke-width="0.8"/>
<rect x="495.11" y="686.6" width="8.51" height="1.85" fill="#f0f0f0" stroke="#111" stroke-width="0.8"/>
<rect x="503.62" y="686.6" width="8.51" height="1.85" fill="#f0f0f0" stroke="#111" stroke-width="0.8"/>
<rect x="512.13" y="681.6" width="8.51" height="6.85" fill="#f0f0f0" stroke="#111" stroke-width="0.8"/>
<rect x="520.64" y="679.4" width="8.51" height="9.05" fill="#f0f0f0" stroke="#111" stroke-width="0.8"/>
<rect x="529.15" y="686.6" width="8.51" height="1.85" fill="#f0f0f0" stroke="#111" stroke-width="0.8"/>
<rect x="537.66" y="675.4" width="8.51" height="13.05" fill="#f0f0f0" stroke="#111" stroke-width="0.8"/>
<rect x="546.17" y="666.5" width="8.51" height="21.95" fill="#f0f0f0" stroke="#111" stroke-width="0.8"/>
<rect x="554.68" y="663.6" width="8.51" height="24.85" fill="#f0f0f0" stroke="#111" stroke-width="0.8"/>
<rect x="563.19" y="663.6" width="8.51" height="24.85" fill="#f0f0f0" stroke="#111" stroke-width="0.8"/>
<rect x="571.7" y="661" width="8.51" height="27.45" fill="#f0f0f0" stroke="#111" stroke-width="0.8"/>
<rect x="580.21" y="663.6" width="8.51" height="24.85" fill="#f0f0f0" stroke="#111" stroke-width="0.8"/>
<rect x="588.72" y="671.5" width="8.51" height="16.95" fill="#f0f0f0" stroke="#111" stroke-width="0.8"/>
<rect x="597.23" y="668.5" width="8.51" height="19.95" fill="#f0f0f0" stroke="#111" stroke-width="0.8"/>
<rect x="605.74" y="672.4" width="8.51" height="16.05" fill="#f0f0f0" stroke="#111" stroke-width="0.8"/>
<rect x="614.25" y="677.3" width="8.51" height="11.15" fill="#f0f0f0" stroke="#111" stroke-width="0.8"/>
<rect x="622.76" y="683.6" width="8.51" height="4.85" fill="#f0f0f0" stroke="#111" stroke-width="0.8"/>
<rect x="631.27" y="681.6" width="8.51" height="6.85" fill="#f0f0f0" stroke="#111" stroke-width="0.8"/>
<rect x="639.78" y="683.6" width="8.51" height="4.85" fill="#f0f0f0" stroke="#111" stroke-width="0.8"/>
<line x1="557.4" y1="583.6" x2="557.4" y2="688.45" stroke="#6e6e6e" stroke-width="1.1" stroke-dasharray="2.7 3.0" stroke-dashoffset="1"/>
<line x1="598.2" y1="583.6" x2="598.2" y2="688.45" stroke="#6e6e6e" stroke-width="1.1" stroke-dasharray="2.7 3.0" stroke-dashoffset="1"/>
<line x1="614.1" y1="583.6" x2="614.1" y2="688.45" stroke="#1a1a1a" stroke-width="1.1" stroke-dasharray="2.7 3.0" stroke-dashoffset="1"/>
<line x1="480.7" y1="652.45" x2="655.3" y2="652.45" stroke="#333" stroke-width="1.25"/>
<path d="M486.3,652.29 C486.63,652.25 487.63,652.11 488.3,652.02 C488.97,651.93 489.64,651.84 490.3,651.76 C490.97,651.67 491.64,651.58 492.31,651.49 C492.97,651.4 493.64,651.32 494.31,651.23 C494.98,651.14 495.64,651.06 496.31,650.97 C496.98,650.89 497.65,650.8 498.31,650.72 C498.98,650.63 499.65,650.55 500.32,650.46 C500.98,650.38 501.65,650.3 502.32,650.21 C502.99,650.13 503.65,650.05 504.32,649.97 C504.99,649.88 505.66,649.8 506.32,649.72 C506.99,649.64 507.66,649.56 508.33,649.48 C508.99,649.39 509.66,649.31 510.33,649.23 C511,649.15 511.66,649.07 512.33,648.99 C513,648.91 513.67,648.83 514.33,648.75 C515,648.67 515.67,648.59 516.34,648.51 C517,648.43 517.67,648.35 518.34,648.27 C519.01,648.19 519.67,648.11 520.34,648.03 C521.01,647.95 521.68,647.87 522.34,647.79 C523.01,647.71 523.68,647.63 524.35,647.55 C525.01,647.47 525.68,647.4 526.35,647.32 C527.02,647.24 527.68,647.16 528.35,647.08 C529.02,647 529.68,646.92 530.35,646.84 C531.02,646.76 531.69,646.68 532.35,646.6 C533.02,646.52 533.69,646.43 534.36,646.35 C535.02,646.27 535.69,646.19 536.36,646.11 C537.03,646.03 537.69,645.95 538.36,645.87 C539.03,645.78 539.7,645.7 540.36,645.62 C541.03,645.54 541.7,645.46 542.37,645.37 C543.03,645.29 543.7,645.21 544.37,645.12 C545.04,645.04 545.7,644.95 546.37,644.87 C547.04,644.79 547.71,644.7 548.37,644.61 C549.04,644.53 549.71,644.44 550.38,644.36 C551.04,644.27 551.71,644.18 552.38,644.1 C553.05,644.01 553.71,643.92 554.38,643.83 C555.05,643.74 555.72,643.65 556.38,643.57 C557.05,643.48 557.72,643.39 558.39,643.29 C559.05,643.2 559.72,643.11 560.39,643.02 C561.06,642.93 561.72,642.83 562.39,642.74 C563.06,642.65 563.73,642.55 564.39,642.46 C565.06,642.36 565.73,642.27 566.4,642.17 C567.06,642.07 567.73,641.98 568.4,641.88 C569.07,641.78 569.73,641.68 570.4,641.58 C571.07,641.48 571.73,641.38 572.4,641.28 C573.07,641.18 573.74,641.08 574.4,640.97 C575.07,640.87 575.74,640.77 576.41,640.66 C577.07,640.56 577.74,640.45 578.41,640.34 C579.08,640.23 579.74,640.13 580.41,640.02 C581.08,639.91 581.75,639.8 582.41,639.69 C583.08,639.58 583.75,639.46 584.42,639.35 C585.08,639.24 585.75,639.12 586.42,639.01 C587.09,638.89 587.75,638.77 588.42,638.66 C589.09,638.54 589.76,638.42 590.42,638.3 C591.09,638.18 591.76,638.06 592.43,637.94 C593.09,637.81 593.76,637.69 594.43,637.56 C595.1,637.44 595.76,637.31 596.43,637.18 C597.1,637.06 597.77,636.93 598.43,636.8 C599.1,636.67 599.77,636.53 600.44,636.4 C601.1,636.27 601.77,636.13 602.44,636 C603.11,635.86 603.77,635.73 604.44,635.59 C605.11,635.45 605.78,635.31 606.44,635.17 C607.11,635.02 607.78,634.88 608.45,634.74 C609.11,634.59 609.78,634.45 610.45,634.3 C611.12,634.15 611.78,634 612.45,633.85 C613.12,633.7 613.78,633.55 614.45,633.39 C615.12,633.24 615.79,633.08 616.45,632.93 C617.12,632.77 617.79,632.61 618.46,632.45 C619.12,632.29 619.79,632.13 620.46,631.96 C621.13,631.8 621.79,631.63 622.46,631.46 C623.13,631.3 623.8,631.13 624.46,630.96 C625.13,630.78 625.8,630.61 626.47,630.44 C627.13,630.26 627.8,630.08 628.47,629.91 C629.14,629.73 629.8,629.55 630.47,629.36 C631.14,629.18 631.81,629 632.47,628.81 C633.14,628.63 633.81,628.44 634.48,628.25 C635.14,628.06 635.81,627.87 636.48,627.67 C637.15,627.48 637.81,627.28 638.48,627.08 C639.15,626.89 639.82,626.69 640.48,626.48 C641.15,626.28 641.82,626.08 642.49,625.87 C643.15,625.66 643.82,625.45 644.49,625.24 C645.16,625.03 645.82,624.82 646.49,624.61 C647.16,624.39 647.83,624.17 648.49,623.95 C649.16,623.73 649.83,623.51 650.5,623.29 C651.16,623.06 651.83,622.84 652.5,622.61 C653.17,622.38 654.17,622.03 654.5,621.92" fill="none" stroke="#45629C" stroke-width="2" stroke-linecap="round" clip-path="url(#c12)"/>
<line x1="480.7" y1="583.6" x2="480.7" y2="688.45" stroke="#888" stroke-width="1.8"/>
<line x1="479.8" y1="688.45" x2="655.3" y2="688.45" stroke="#3a3a3a" stroke-width="1.25"/>
<line x1="477.7" y1="652.45" x2="480.7" y2="652.45" stroke="#555" stroke-width="1"/>
<text x="475.8" y="652.45" transform="rotate(-90 475.8 652.45)" text-anchor="middle" class="tk">1.0</text>
<line x1="477.7" y1="635.24" x2="480.7" y2="635.24" stroke="#555" stroke-width="1"/>
<text x="475.8" y="635.24" transform="rotate(-90 475.8 635.24)" text-anchor="middle" class="tk">1.2</text>
<line x1="477.7" y1="618.03" x2="480.7" y2="618.03" stroke="#555" stroke-width="1"/>
<text x="475.8" y="618.03" transform="rotate(-90 475.8 618.03)" text-anchor="middle" class="tk">1.4</text>
<line x1="477.7" y1="600.81" x2="480.7" y2="600.81" stroke="#555" stroke-width="1"/>
<text x="475.8" y="600.81" transform="rotate(-90 475.8 600.81)" text-anchor="middle" class="tk">1.6</text>
<line x1="477.7" y1="583.6" x2="480.7" y2="583.6" stroke="#555" stroke-width="1"/>
<text x="475.8" y="583.6" transform="rotate(-90 475.8 583.6)" text-anchor="middle" class="tk">1.8</text>
<line x1="486.6" y1="688.45" x2="486.6" y2="690.25" stroke="#555" stroke-width="1"/>
<text x="486.6" y="696.4" text-anchor="middle" class="tk">0</text>
<line x1="509.05" y1="688.45" x2="509.05" y2="690.25" stroke="#555" stroke-width="1"/>
<text x="509.05" y="696.4" text-anchor="middle" class="tk">1</text>
<line x1="531.5" y1="688.45" x2="531.5" y2="690.25" stroke="#555" stroke-width="1"/>
<text x="531.5" y="696.4" text-anchor="middle" class="tk">2</text>
<line x1="553.95" y1="688.45" x2="553.95" y2="690.25" stroke="#555" stroke-width="1"/>
<text x="553.95" y="696.4" text-anchor="middle" class="tk">3</text>
<line x1="576.4" y1="688.45" x2="576.4" y2="690.25" stroke="#555" stroke-width="1"/>
<text x="576.4" y="696.4" text-anchor="middle" class="tk">4</text>
<line x1="598.85" y1="688.45" x2="598.85" y2="690.25" stroke="#555" stroke-width="1"/>
<text x="598.85" y="696.4" text-anchor="middle" class="tk">5</text>
<line x1="621.3" y1="688.45" x2="621.3" y2="690.25" stroke="#555" stroke-width="1"/>
<text x="621.3" y="696.4" text-anchor="middle" class="tk">6</text>
<line x1="643.75" y1="688.45" x2="643.75" y2="690.25" stroke="#555" stroke-width="1"/>
<text x="643.75" y="696.4" text-anchor="middle" class="tk">7</text>
<line x1="655.3" y1="661.1" x2="655.3" y2="688.45" stroke="#8c8c8c" stroke-width="1.1"/>
<line x1="655.3" y1="661.1" x2="657.3" y2="661.1" stroke="#8c8c8c" stroke-width="1"/>
<text x="659.1" y="663.8" class="tk">40</text>
<line x1="655.3" y1="674" x2="657.3" y2="674" stroke="#8c8c8c" stroke-width="1"/>
<text x="659.1" y="676.7" class="tk">20</text>
<line x1="655.3" y1="686.7" x2="657.3" y2="686.7" stroke="#8c8c8c" stroke-width="1"/>
<text x="659.1" y="689.4" class="tk">0</text>
<text x="567.8" y="705" text-anchor="middle" class="xl">CEHWI (°C)</text>
</svg>
</body></html>
